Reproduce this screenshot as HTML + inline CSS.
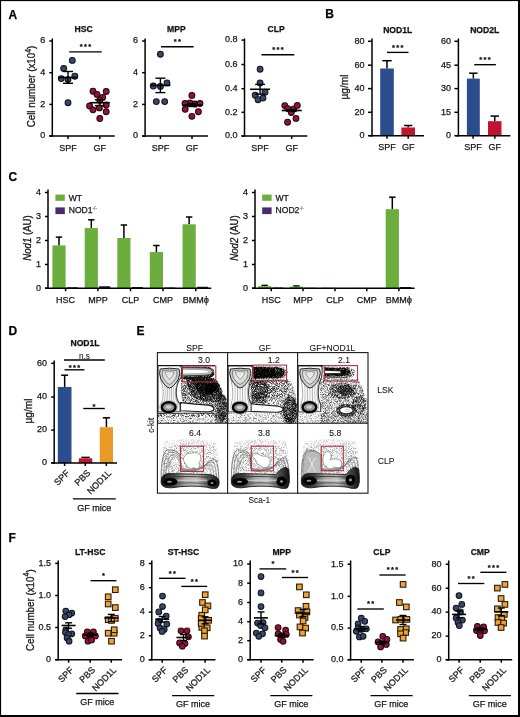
<!DOCTYPE html><html><head><meta charset="utf-8"><style>html,body{margin:0;padding:0;background:#fff}svg{display:block;will-change:transform}text{font-family:"Liberation Sans", sans-serif;stroke:#111;stroke-width:0.25px}</style></head><body>
<svg width="520" height="717" viewBox="0 0 520 717">
<defs><filter id="spkd" filterUnits="userSpaceOnUse" x="0" y="0" width="520" height="717"><feTurbulence type="fractalNoise" baseFrequency="1.6" numOctaves="1" seed="3" result="n"/><feColorMatrix in="n" type="matrix" values="0 0 0 0 0  0 0 0 0 0  0 0 0 0 0  0 0 0 -2 1.85" result="m"/><feComposite in="SourceGraphic" in2="m" operator="in" result="c"/><feGaussianBlur in="c" stdDeviation="0.6"/></filter><filter id="spkd2" filterUnits="userSpaceOnUse" x="0" y="0" width="520" height="717"><feTurbulence type="fractalNoise" baseFrequency="1.6" numOctaves="1" seed="4" result="n"/><feColorMatrix in="n" type="matrix" values="0 0 0 0 0  0 0 0 0 0  0 0 0 0 0  0 0 0 -2 1.72" result="m"/><feComposite in="SourceGraphic" in2="m" operator="in" result="c"/><feGaussianBlur in="c" stdDeviation="0.6"/></filter><filter id="spkm" filterUnits="userSpaceOnUse" x="0" y="0" width="520" height="717"><feTurbulence type="fractalNoise" baseFrequency="1.6" numOctaves="1" seed="5" result="n"/><feColorMatrix in="n" type="matrix" values="0 0 0 0 0  0 0 0 0 0  0 0 0 0 0  0 0 0 -2 1.6" result="m"/><feComposite in="SourceGraphic" in2="m" operator="in" result="c"/><feGaussianBlur in="c" stdDeviation="0.6"/></filter><filter id="spkm2" filterUnits="userSpaceOnUse" x="0" y="0" width="520" height="717"><feTurbulence type="fractalNoise" baseFrequency="1.6" numOctaves="1" seed="6" result="n"/><feColorMatrix in="n" type="matrix" values="0 0 0 0 0  0 0 0 0 0  0 0 0 0 0  0 0 0 -2 1.5" result="m"/><feComposite in="SourceGraphic" in2="m" operator="in" result="c"/><feGaussianBlur in="c" stdDeviation="0.6"/></filter><filter id="spkl" filterUnits="userSpaceOnUse" x="0" y="0" width="520" height="717"><feTurbulence type="fractalNoise" baseFrequency="1.6" numOctaves="1" seed="7" result="n"/><feColorMatrix in="n" type="matrix" values="0 0 0 0 0  0 0 0 0 0  0 0 0 0 0  0 0 0 -2 1.38" result="m"/><feComposite in="SourceGraphic" in2="m" operator="in" result="c"/><feGaussianBlur in="c" stdDeviation="0.6"/></filter><filter id="spkxl" filterUnits="userSpaceOnUse" x="0" y="0" width="520" height="717"><feTurbulence type="fractalNoise" baseFrequency="1.6" numOctaves="1" seed="9" result="n"/><feColorMatrix in="n" type="matrix" values="0 0 0 0 0  0 0 0 0 0  0 0 0 0 0  0 0 0 -2 1.25" result="m"/><feComposite in="SourceGraphic" in2="m" operator="in" result="c"/><feGaussianBlur in="c" stdDeviation="0.6"/></filter><filter id="spkxxl" filterUnits="userSpaceOnUse" x="0" y="0" width="520" height="717"><feTurbulence type="fractalNoise" baseFrequency="1.6" numOctaves="1" seed="11" result="n"/><feColorMatrix in="n" type="matrix" values="0 0 0 0 0  0 0 0 0 0  0 0 0 0 0  0 0 0 -2 1.12" result="m"/><feComposite in="SourceGraphic" in2="m" operator="in" result="c"/><feGaussianBlur in="c" stdDeviation="0.6"/></filter></defs>
<rect x="0" y="0" width="520" height="717" fill="#fff"/>
<text x="8.6" y="18.6" font-size="12" text-anchor="start" font-weight="bold" font-style="normal" fill="#000" >A</text>
<text x="325.2" y="18.4" font-size="12" text-anchor="start" font-weight="bold" font-style="normal" fill="#000" >B</text>
<text x="8.4" y="181.3" font-size="12" text-anchor="start" font-weight="bold" font-style="normal" fill="#000" >C</text>
<text x="8.4" y="334.8" font-size="12" text-anchor="start" font-weight="bold" font-style="normal" fill="#000" >D</text>
<text x="136.6" y="334.8" font-size="12" text-anchor="start" font-weight="bold" font-style="normal" fill="#000" >E</text>
<text x="8.6" y="541.5" font-size="12" text-anchor="start" font-weight="bold" font-style="normal" fill="#000" >F</text>
<line x1="52.3" y1="38.5" x2="52.3" y2="136.75" stroke="#000" stroke-width="1.5"/>
<line x1="49.3" y1="41" x2="52.3" y2="41" stroke="#000" stroke-width="1.5"/>
<text x="45.2" y="43.35" font-size="9" text-anchor="end" font-weight="normal" font-style="normal" fill="#1a1a1a" >6</text>
<line x1="49.3" y1="72.7" x2="52.3" y2="72.7" stroke="#000" stroke-width="1.5"/>
<text x="45.2" y="75.05" font-size="9" text-anchor="end" font-weight="normal" font-style="normal" fill="#1a1a1a" >4</text>
<line x1="49.3" y1="104.4" x2="52.3" y2="104.4" stroke="#000" stroke-width="1.5"/>
<text x="45.2" y="106.75" font-size="9" text-anchor="end" font-weight="normal" font-style="normal" fill="#1a1a1a" >2</text>
<line x1="49.3" y1="136" x2="52.3" y2="136" stroke="#000" stroke-width="1.5"/>
<text x="45.2" y="138.35" font-size="9" text-anchor="end" font-weight="normal" font-style="normal" fill="#1a1a1a" >0</text>
<line x1="49.3" y1="136" x2="114.8" y2="136" stroke="#000" stroke-width="1.5"/>
<line x1="68" y1="136" x2="68" y2="139" stroke="#000" stroke-width="1.5"/>
<line x1="99.8" y1="136" x2="99.8" y2="139" stroke="#000" stroke-width="1.5"/>
<text x="83.7" y="32.4" font-size="8.6" text-anchor="middle" font-weight="bold" font-style="normal" fill="#111" >HSC</text>
<text x="68" y="150.6" font-size="9" text-anchor="middle" font-weight="normal" font-style="normal" fill="#1a1a1a" >SPF</text>
<text x="99.8" y="150.6" font-size="9" text-anchor="middle" font-weight="normal" font-style="normal" fill="#1a1a1a" >GF</text>
<line x1="69.2" y1="51.8" x2="101.8" y2="51.8" stroke="#000" stroke-width="1.35"/>
<text x="86.15" y="49.0" font-size="7.5" text-anchor="middle" font-weight="bold" letter-spacing="1.3" fill="#111">***</text>
<circle cx="72.3" cy="60.4" r="2.9" fill="#3a4867" stroke="#10151f" stroke-width="1.05"/>
<circle cx="63.7" cy="68.5" r="2.9" fill="#3a4867" stroke="#10151f" stroke-width="1.05"/>
<circle cx="74.8" cy="76.2" r="2.9" fill="#3a4867" stroke="#10151f" stroke-width="1.05"/>
<circle cx="61.3" cy="78.6" r="2.9" fill="#3a4867" stroke="#10151f" stroke-width="1.05"/>
<circle cx="68" cy="79.6" r="2.9" fill="#3a4867" stroke="#10151f" stroke-width="1.05"/>
<circle cx="68" cy="102.7" r="2.9" fill="#3a4867" stroke="#10151f" stroke-width="1.05"/>
<circle cx="93" cy="91.2" r="2.9" fill="#8e1737" stroke="#2c050f" stroke-width="1.05"/>
<circle cx="106.2" cy="91.5" r="2.9" fill="#8e1737" stroke="#2c050f" stroke-width="1.05"/>
<circle cx="97" cy="94.4" r="2.9" fill="#8e1737" stroke="#2c050f" stroke-width="1.05"/>
<circle cx="102.7" cy="97.3" r="2.9" fill="#8e1737" stroke="#2c050f" stroke-width="1.05"/>
<circle cx="99.8" cy="100.2" r="2.9" fill="#8e1737" stroke="#2c050f" stroke-width="1.05"/>
<circle cx="89.6" cy="106" r="2.9" fill="#8e1737" stroke="#2c050f" stroke-width="1.05"/>
<circle cx="106.2" cy="105" r="2.9" fill="#8e1737" stroke="#2c050f" stroke-width="1.05"/>
<circle cx="93" cy="109.8" r="2.9" fill="#8e1737" stroke="#2c050f" stroke-width="1.05"/>
<circle cx="99.4" cy="107.9" r="2.9" fill="#8e1737" stroke="#2c050f" stroke-width="1.05"/>
<circle cx="106.2" cy="111.7" r="2.9" fill="#8e1737" stroke="#2c050f" stroke-width="1.05"/>
<circle cx="99.8" cy="118.5" r="2.9" fill="#8e1737" stroke="#2c050f" stroke-width="1.05"/>
<line x1="58" y1="77.5" x2="78" y2="77.5" stroke="#000" stroke-width="1.6"/>
<line x1="68" y1="71.5" x2="68" y2="83.3" stroke="#000" stroke-width="1.4"/>
<line x1="63" y1="71.5" x2="73" y2="71.5" stroke="#000" stroke-width="1.4"/>
<line x1="63" y1="83.3" x2="73" y2="83.3" stroke="#000" stroke-width="1.4"/>
<line x1="89.8" y1="102.7" x2="109.8" y2="102.7" stroke="#000" stroke-width="1.6"/>
<line x1="99.8" y1="99.8" x2="99.8" y2="105.6" stroke="#000" stroke-width="1.4"/>
<line x1="94.8" y1="99.8" x2="104.8" y2="99.8" stroke="#000" stroke-width="1.4"/>
<line x1="94.8" y1="105.6" x2="104.8" y2="105.6" stroke="#000" stroke-width="1.4"/>
<line x1="145.1" y1="38.5" x2="145.1" y2="136.75" stroke="#000" stroke-width="1.5"/>
<line x1="142.1" y1="41" x2="145.1" y2="41" stroke="#000" stroke-width="1.5"/>
<text x="138.0" y="43.35" font-size="9" text-anchor="end" font-weight="normal" font-style="normal" fill="#1a1a1a" >6</text>
<line x1="142.1" y1="72.7" x2="145.1" y2="72.7" stroke="#000" stroke-width="1.5"/>
<text x="138.0" y="75.05" font-size="9" text-anchor="end" font-weight="normal" font-style="normal" fill="#1a1a1a" >4</text>
<line x1="142.1" y1="104.4" x2="145.1" y2="104.4" stroke="#000" stroke-width="1.5"/>
<text x="138.0" y="106.75" font-size="9" text-anchor="end" font-weight="normal" font-style="normal" fill="#1a1a1a" >2</text>
<line x1="142.1" y1="136" x2="145.1" y2="136" stroke="#000" stroke-width="1.5"/>
<text x="138.0" y="138.35" font-size="9" text-anchor="end" font-weight="normal" font-style="normal" fill="#1a1a1a" >0</text>
<line x1="142.1" y1="136" x2="208" y2="136" stroke="#000" stroke-width="1.5"/>
<line x1="160.4" y1="136" x2="160.4" y2="139" stroke="#000" stroke-width="1.5"/>
<line x1="192" y1="136" x2="192" y2="139" stroke="#000" stroke-width="1.5"/>
<text x="176.4" y="32.4" font-size="8.6" text-anchor="middle" font-weight="bold" font-style="normal" fill="#111" >MPP</text>
<text x="160.4" y="150.6" font-size="9" text-anchor="middle" font-weight="normal" font-style="normal" fill="#1a1a1a" >SPF</text>
<text x="192" y="150.6" font-size="9" text-anchor="middle" font-weight="normal" font-style="normal" fill="#1a1a1a" >GF</text>
<line x1="161" y1="46.7" x2="193.6" y2="46.7" stroke="#000" stroke-width="1.35"/>
<text x="177.95" y="43.9" font-size="7.5" text-anchor="middle" font-weight="bold" letter-spacing="1.3" fill="#111">**</text>
<circle cx="160.4" cy="54.2" r="2.9" fill="#3a4867" stroke="#10151f" stroke-width="1.05"/>
<circle cx="153.3" cy="86" r="2.9" fill="#3a4867" stroke="#10151f" stroke-width="1.05"/>
<circle cx="160.4" cy="86.4" r="2.9" fill="#3a4867" stroke="#10151f" stroke-width="1.05"/>
<circle cx="167" cy="82.9" r="2.9" fill="#3a4867" stroke="#10151f" stroke-width="1.05"/>
<circle cx="156.3" cy="101.6" r="2.9" fill="#3a4867" stroke="#10151f" stroke-width="1.05"/>
<circle cx="164.7" cy="101.6" r="2.9" fill="#3a4867" stroke="#10151f" stroke-width="1.05"/>
<circle cx="191.9" cy="95.4" r="2.9" fill="#8e1737" stroke="#2c050f" stroke-width="1.05"/>
<circle cx="185" cy="103.5" r="2.9" fill="#8e1737" stroke="#2c050f" stroke-width="1.05"/>
<circle cx="190" cy="103" r="2.9" fill="#8e1737" stroke="#2c050f" stroke-width="1.05"/>
<circle cx="195" cy="104" r="2.9" fill="#8e1737" stroke="#2c050f" stroke-width="1.05"/>
<circle cx="200" cy="103.5" r="2.9" fill="#8e1737" stroke="#2c050f" stroke-width="1.05"/>
<circle cx="185.2" cy="109.3" r="2.9" fill="#8e1737" stroke="#2c050f" stroke-width="1.05"/>
<circle cx="198.4" cy="111.7" r="2.9" fill="#8e1737" stroke="#2c050f" stroke-width="1.05"/>
<circle cx="191.9" cy="116.3" r="2.9" fill="#8e1737" stroke="#2c050f" stroke-width="1.05"/>
<line x1="150.4" y1="85.4" x2="170.4" y2="85.4" stroke="#000" stroke-width="1.6"/>
<line x1="160.4" y1="78.2" x2="160.4" y2="92.6" stroke="#000" stroke-width="1.4"/>
<line x1="155.4" y1="78.2" x2="165.4" y2="78.2" stroke="#000" stroke-width="1.4"/>
<line x1="155.4" y1="92.6" x2="165.4" y2="92.6" stroke="#000" stroke-width="1.4"/>
<line x1="182" y1="105" x2="202" y2="105" stroke="#000" stroke-width="1.6"/>
<line x1="192" y1="103.5" x2="192" y2="106.5" stroke="#000" stroke-width="1.4"/>
<line x1="187" y1="103.5" x2="197" y2="103.5" stroke="#000" stroke-width="1.4"/>
<line x1="187" y1="106.5" x2="197" y2="106.5" stroke="#000" stroke-width="1.4"/>
<line x1="244.5" y1="38.5" x2="244.5" y2="136.75" stroke="#000" stroke-width="1.5"/>
<line x1="241.5" y1="40.1" x2="244.5" y2="40.1" stroke="#000" stroke-width="1.5"/>
<text x="237.4" y="42.45" font-size="9" text-anchor="end" font-weight="normal" font-style="normal" fill="#1a1a1a" >0.8</text>
<line x1="241.5" y1="64.5" x2="244.5" y2="64.5" stroke="#000" stroke-width="1.5"/>
<text x="237.4" y="66.85" font-size="9" text-anchor="end" font-weight="normal" font-style="normal" fill="#1a1a1a" >0.6</text>
<line x1="241.5" y1="88.7" x2="244.5" y2="88.7" stroke="#000" stroke-width="1.5"/>
<text x="237.4" y="91.05" font-size="9" text-anchor="end" font-weight="normal" font-style="normal" fill="#1a1a1a" >0.4</text>
<line x1="241.5" y1="112.3" x2="244.5" y2="112.3" stroke="#000" stroke-width="1.5"/>
<text x="237.4" y="114.65" font-size="9" text-anchor="end" font-weight="normal" font-style="normal" fill="#1a1a1a" >0.2</text>
<line x1="241.5" y1="136" x2="244.5" y2="136" stroke="#000" stroke-width="1.5"/>
<text x="237.4" y="138.35" font-size="9" text-anchor="end" font-weight="normal" font-style="normal" fill="#1a1a1a" >0.0</text>
<line x1="241.5" y1="136" x2="307.4" y2="136" stroke="#000" stroke-width="1.5"/>
<line x1="260.1" y1="136" x2="260.1" y2="139" stroke="#000" stroke-width="1.5"/>
<line x1="291.7" y1="136" x2="291.7" y2="139" stroke="#000" stroke-width="1.5"/>
<text x="276.1" y="32.4" font-size="8.6" text-anchor="middle" font-weight="bold" font-style="normal" fill="#111" >CLP</text>
<text x="260.1" y="150.6" font-size="9" text-anchor="middle" font-weight="normal" font-style="normal" fill="#1a1a1a" >SPF</text>
<text x="291.7" y="150.6" font-size="9" text-anchor="middle" font-weight="normal" font-style="normal" fill="#1a1a1a" >GF</text>
<line x1="261.5" y1="54.75" x2="294.3" y2="54.75" stroke="#000" stroke-width="1.35"/>
<text x="278.55" y="51.95" font-size="7.5" text-anchor="middle" font-weight="bold" letter-spacing="1.3" fill="#111">***</text>
<circle cx="260.1" cy="69.2" r="2.9" fill="#3a4867" stroke="#10151f" stroke-width="1.05"/>
<circle cx="260.1" cy="82.9" r="2.9" fill="#3a4867" stroke="#10151f" stroke-width="1.05"/>
<circle cx="255.2" cy="95.2" r="2.9" fill="#3a4867" stroke="#10151f" stroke-width="1.05"/>
<circle cx="265" cy="92.2" r="2.9" fill="#3a4867" stroke="#10151f" stroke-width="1.05"/>
<circle cx="258" cy="99.7" r="2.9" fill="#3a4867" stroke="#10151f" stroke-width="1.05"/>
<circle cx="263" cy="98.1" r="2.9" fill="#3a4867" stroke="#10151f" stroke-width="1.05"/>
<circle cx="284.8" cy="105.6" r="2.9" fill="#8e1737" stroke="#2c050f" stroke-width="1.05"/>
<circle cx="287.8" cy="108.6" r="2.9" fill="#8e1737" stroke="#2c050f" stroke-width="1.05"/>
<circle cx="291.3" cy="112.6" r="2.9" fill="#8e1737" stroke="#2c050f" stroke-width="1.05"/>
<circle cx="293.9" cy="108.8" r="2.9" fill="#8e1737" stroke="#2c050f" stroke-width="1.05"/>
<circle cx="297.3" cy="105.4" r="2.9" fill="#8e1737" stroke="#2c050f" stroke-width="1.05"/>
<circle cx="296" cy="118.4" r="2.9" fill="#8e1737" stroke="#2c050f" stroke-width="1.05"/>
<circle cx="287.6" cy="122.2" r="2.9" fill="#8e1737" stroke="#2c050f" stroke-width="1.05"/>
<line x1="250.1" y1="89.3" x2="270.1" y2="89.3" stroke="#000" stroke-width="1.6"/>
<line x1="260.1" y1="84.4" x2="260.1" y2="94.2" stroke="#000" stroke-width="1.4"/>
<line x1="255.1" y1="84.4" x2="265.1" y2="84.4" stroke="#000" stroke-width="1.4"/>
<line x1="255.1" y1="94.2" x2="265.1" y2="94.2" stroke="#000" stroke-width="1.4"/>
<line x1="281.7" y1="110.5" x2="301.7" y2="110.5" stroke="#000" stroke-width="1.6"/>
<line x1="291.7" y1="109.6" x2="291.7" y2="111.4" stroke="#000" stroke-width="1.4"/>
<line x1="286.7" y1="109.6" x2="296.7" y2="109.6" stroke="#000" stroke-width="1.4"/>
<line x1="286.7" y1="111.4" x2="296.7" y2="111.4" stroke="#000" stroke-width="1.4"/>
<text x="0" y="0" font-size="9.8" text-anchor="middle" fill="#1a1a1a" transform="translate(35.3,86.5) rotate(-90) scale(1,1.2)">Cell number (x10<tspan dy="-3.8" font-size="7">4</tspan><tspan dy="3.8">)</tspan></text>
<text x="0" y="0" font-size="9.8" text-anchor="middle" fill="#1a1a1a" transform="translate(33.6,610.2) rotate(-90) scale(1,1.2)">Cell number (x10<tspan dy="-3.8" font-size="7">4</tspan><tspan dy="3.8">)</tspan></text>
<line x1="372" y1="38.5" x2="372" y2="136.45" stroke="#000" stroke-width="1.5"/>
<line x1="368" y1="41.3" x2="372" y2="41.3" stroke="#000" stroke-width="1.5"/>
<text x="364.5" y="43.65" font-size="9" text-anchor="end" font-weight="normal" font-style="normal" fill="#1a1a1a" >80</text>
<line x1="368" y1="65.2" x2="372" y2="65.2" stroke="#000" stroke-width="1.5"/>
<text x="364.5" y="67.55" font-size="9" text-anchor="end" font-weight="normal" font-style="normal" fill="#1a1a1a" >60</text>
<line x1="368" y1="88.6" x2="372" y2="88.6" stroke="#000" stroke-width="1.5"/>
<text x="364.5" y="90.95" font-size="9" text-anchor="end" font-weight="normal" font-style="normal" fill="#1a1a1a" >40</text>
<line x1="368" y1="112.3" x2="372" y2="112.3" stroke="#000" stroke-width="1.5"/>
<text x="364.5" y="114.65" font-size="9" text-anchor="end" font-weight="normal" font-style="normal" fill="#1a1a1a" >20</text>
<line x1="368" y1="135.7" x2="372" y2="135.7" stroke="#000" stroke-width="1.5"/>
<text x="364.5" y="138.05" font-size="9" text-anchor="end" font-weight="normal" font-style="normal" fill="#1a1a1a" >0</text>
<line x1="387.0" y1="60.7" x2="387.0" y2="68.5" stroke="#000" stroke-width="1.5"/>
<line x1="382.3" y1="60.7" x2="391.7" y2="60.7" stroke="#000" stroke-width="1.5"/>
<rect x="380.2" y="68.5" width="13.6" height="67.2" fill="#2c4d8d"/>
<line x1="408.2" y1="125.5" x2="408.2" y2="127.5" stroke="#000" stroke-width="1.5"/>
<line x1="404.1" y1="125.5" x2="412.3" y2="125.5" stroke="#000" stroke-width="1.5"/>
<rect x="401.4" y="127.5" width="13.6" height="8.2" fill="#c2132f"/>
<line x1="369" y1="135.7" x2="424" y2="135.7" stroke="#000" stroke-width="1.5"/>
<line x1="387" y1="135.7" x2="387" y2="138.7" stroke="#000" stroke-width="1.5"/>
<line x1="408.2" y1="135.7" x2="408.2" y2="138.7" stroke="#000" stroke-width="1.5"/>
<text x="397.7" y="32.6" font-size="8.6" text-anchor="middle" font-weight="bold" font-style="normal" fill="#111" >NOD1L</text>
<text x="387" y="150.4" font-size="9" text-anchor="middle" font-weight="normal" font-style="normal" fill="#1a1a1a" >SPF</text>
<text x="408.2" y="150.4" font-size="9" text-anchor="middle" font-weight="normal" font-style="normal" fill="#1a1a1a" >GF</text>
<line x1="387" y1="52.4" x2="408.5" y2="52.4" stroke="#000" stroke-width="1.35"/>
<text x="398.4" y="49.6" font-size="7.5" text-anchor="middle" font-weight="bold" letter-spacing="1.3" fill="#111">***</text>
<line x1="458.4" y1="38.5" x2="458.4" y2="136.45" stroke="#000" stroke-width="1.5"/>
<line x1="454.4" y1="41.3" x2="458.4" y2="41.3" stroke="#000" stroke-width="1.5"/>
<text x="450.9" y="43.65" font-size="9" text-anchor="end" font-weight="normal" font-style="normal" fill="#1a1a1a" >60</text>
<line x1="454.4" y1="65.2" x2="458.4" y2="65.2" stroke="#000" stroke-width="1.5"/>
<text x="450.9" y="67.55" font-size="9" text-anchor="end" font-weight="normal" font-style="normal" fill="#1a1a1a" >45</text>
<line x1="454.4" y1="88.6" x2="458.4" y2="88.6" stroke="#000" stroke-width="1.5"/>
<text x="450.9" y="90.95" font-size="9" text-anchor="end" font-weight="normal" font-style="normal" fill="#1a1a1a" >30</text>
<line x1="454.4" y1="112.3" x2="458.4" y2="112.3" stroke="#000" stroke-width="1.5"/>
<text x="450.9" y="114.65" font-size="9" text-anchor="end" font-weight="normal" font-style="normal" fill="#1a1a1a" >15</text>
<line x1="454.4" y1="135.7" x2="458.4" y2="135.7" stroke="#000" stroke-width="1.5"/>
<text x="450.9" y="138.05" font-size="9" text-anchor="end" font-weight="normal" font-style="normal" fill="#1a1a1a" >0</text>
<line x1="473.35" y1="73.2" x2="473.35" y2="78.6" stroke="#000" stroke-width="1.5"/>
<line x1="469.15" y1="73.2" x2="477.55" y2="73.2" stroke="#000" stroke-width="1.5"/>
<rect x="466.9" y="78.6" width="12.9" height="57.1" fill="#2c4d8d"/>
<line x1="494.75" y1="116.1" x2="494.75" y2="121.2" stroke="#000" stroke-width="1.5"/>
<line x1="490.55" y1="116.1" x2="498.95" y2="116.1" stroke="#000" stroke-width="1.5"/>
<rect x="488" y="121.2" width="13.5" height="14.5" fill="#c2132f"/>
<line x1="455.4" y1="135.7" x2="510.4" y2="135.7" stroke="#000" stroke-width="1.5"/>
<line x1="473.1" y1="135.7" x2="473.1" y2="138.7" stroke="#000" stroke-width="1.5"/>
<line x1="494.8" y1="135.7" x2="494.8" y2="138.7" stroke="#000" stroke-width="1.5"/>
<text x="484.7" y="32.6" font-size="8.6" text-anchor="middle" font-weight="bold" font-style="normal" fill="#111" >NOD2L</text>
<text x="473.1" y="150.4" font-size="9" text-anchor="middle" font-weight="normal" font-style="normal" fill="#1a1a1a" >SPF</text>
<text x="494.8" y="150.4" font-size="9" text-anchor="middle" font-weight="normal" font-style="normal" fill="#1a1a1a" >GF</text>
<line x1="474.2" y1="64.7" x2="495.9" y2="64.7" stroke="#000" stroke-width="1.35"/>
<text x="485.7" y="61.9" font-size="7.5" text-anchor="middle" font-weight="bold" letter-spacing="1.3" fill="#111">***</text>
<text x="0" y="0" font-size="10.2" text-anchor="middle" fill="#1a1a1a" transform="translate(348.0,87) rotate(-90) scale(1,1.1)">µg/ml</text>
<line x1="48" y1="189.5" x2="48" y2="288.95" stroke="#000" stroke-width="1.5"/>
<line x1="45" y1="192.5" x2="48" y2="192.5" stroke="#000" stroke-width="1.5"/>
<text x="40.9" y="194.85" font-size="9" text-anchor="end" font-weight="normal" font-style="normal" fill="#1a1a1a" >4</text>
<line x1="45" y1="216.5" x2="48" y2="216.5" stroke="#000" stroke-width="1.5"/>
<text x="40.9" y="218.85" font-size="9" text-anchor="end" font-weight="normal" font-style="normal" fill="#1a1a1a" >3</text>
<line x1="45" y1="240.5" x2="48" y2="240.5" stroke="#000" stroke-width="1.5"/>
<text x="40.9" y="242.85" font-size="9" text-anchor="end" font-weight="normal" font-style="normal" fill="#1a1a1a" >2</text>
<line x1="45" y1="264.5" x2="48" y2="264.5" stroke="#000" stroke-width="1.5"/>
<text x="40.9" y="266.85" font-size="9" text-anchor="end" font-weight="normal" font-style="normal" fill="#1a1a1a" >1</text>
<line x1="45" y1="288.2" x2="48" y2="288.2" stroke="#000" stroke-width="1.5"/>
<text x="40.9" y="290.55" font-size="9" text-anchor="end" font-weight="normal" font-style="normal" fill="#1a1a1a" >0</text>
<line x1="59" y1="237.1" x2="59" y2="245.4" stroke="#000" stroke-width="1.5"/>
<line x1="55.8" y1="237.1" x2="62.2" y2="237.1" stroke="#000" stroke-width="1.5"/>
<rect x="52.4" y="245.4" width="13.2" height="42.8" fill="#6cae3e"/>
<rect x="66.6" y="287.3" width="11.5" height="0.9" fill="#24152f" rx="0.8"/>
<line x1="91.3" y1="219.8" x2="91.3" y2="228.1" stroke="#000" stroke-width="1.5"/>
<line x1="88.1" y1="219.8" x2="94.5" y2="219.8" stroke="#000" stroke-width="1.5"/>
<rect x="84.7" y="228.1" width="13.2" height="60.1" fill="#6cae3e"/>
<rect x="98.9" y="286.2" width="11.5" height="2.0" fill="#24152f" rx="0.8"/>
<line x1="123.9" y1="225" x2="123.9" y2="238" stroke="#000" stroke-width="1.5"/>
<line x1="120.7" y1="225" x2="127.1" y2="225" stroke="#000" stroke-width="1.5"/>
<rect x="117.3" y="238" width="13.2" height="50.2" fill="#6cae3e"/>
<rect x="131.5" y="286.9" width="11.5" height="1.3" fill="#24152f" rx="0.8"/>
<line x1="156.4" y1="245.5" x2="156.4" y2="252" stroke="#000" stroke-width="1.5"/>
<line x1="153.2" y1="245.5" x2="159.6" y2="245.5" stroke="#000" stroke-width="1.5"/>
<rect x="149.8" y="252" width="13.2" height="36.2" fill="#6cae3e"/>
<rect x="164" y="287.4" width="11.5" height="0.8" fill="#24152f" rx="0.8"/>
<line x1="189.15" y1="217" x2="189.15" y2="224.3" stroke="#000" stroke-width="1.5"/>
<line x1="185.95" y1="217" x2="192.35" y2="217" stroke="#000" stroke-width="1.5"/>
<rect x="182.55" y="224.3" width="13.2" height="63.9" fill="#6cae3e"/>
<rect x="196.75" y="286.8" width="11.5" height="1.4" fill="#24152f" rx="0.8"/>
<line x1="45" y1="288.2" x2="211.3" y2="288.2" stroke="#000" stroke-width="1.5"/>
<line x1="65.6" y1="288.2" x2="65.6" y2="291.2" stroke="#000" stroke-width="1.5"/>
<line x1="97.9" y1="288.2" x2="97.9" y2="291.2" stroke="#000" stroke-width="1.5"/>
<line x1="130.5" y1="288.2" x2="130.5" y2="291.2" stroke="#000" stroke-width="1.5"/>
<line x1="163" y1="288.2" x2="163" y2="291.2" stroke="#000" stroke-width="1.5"/>
<line x1="195.75" y1="288.2" x2="195.75" y2="291.2" stroke="#000" stroke-width="1.5"/>
<text x="65.6" y="303.2" font-size="9" text-anchor="middle" font-weight="normal" font-style="normal" fill="#1a1a1a" >HSC</text>
<text x="97.9" y="303.2" font-size="9" text-anchor="middle" font-weight="normal" font-style="normal" fill="#1a1a1a" >MPP</text>
<text x="130.5" y="303.2" font-size="9" text-anchor="middle" font-weight="normal" font-style="normal" fill="#1a1a1a" >CLP</text>
<text x="163" y="303.2" font-size="9" text-anchor="middle" font-weight="normal" font-style="normal" fill="#1a1a1a" >CMP</text>
<text x="195.75" y="303.2" font-size="9" text-anchor="middle" font-weight="normal" font-style="normal" fill="#1a1a1a" >BMM<tspan font-size="9.2">ϕ</tspan></text>
<rect x="55.4" y="194.6" width="9.4" height="6.2" fill="#6cae3e"/>
<rect x="55.4" y="207.4" width="9.4" height="6.7" fill="#4b2a6c"/>
<text x="68.7" y="200.9" font-size="8.6" text-anchor="start" font-weight="normal" font-style="normal" fill="#1a1a1a" >WT</text>
<text x="68.7" y="213.3" font-size="8.6" text-anchor="start" font-weight="normal" font-style="normal" fill="#1a1a1a" >NOD1<tspan dy="-3.4" font-size="4.6" fill="#444" style="stroke-width:0.1px">-/-</tspan></text>
<line x1="255" y1="189.5" x2="255" y2="288.95" stroke="#000" stroke-width="1.5"/>
<line x1="252" y1="192.5" x2="255" y2="192.5" stroke="#000" stroke-width="1.5"/>
<text x="247.9" y="194.85" font-size="9" text-anchor="end" font-weight="normal" font-style="normal" fill="#1a1a1a" >4</text>
<line x1="252" y1="216.5" x2="255" y2="216.5" stroke="#000" stroke-width="1.5"/>
<text x="247.9" y="218.85" font-size="9" text-anchor="end" font-weight="normal" font-style="normal" fill="#1a1a1a" >3</text>
<line x1="252" y1="240.5" x2="255" y2="240.5" stroke="#000" stroke-width="1.5"/>
<text x="247.9" y="242.85" font-size="9" text-anchor="end" font-weight="normal" font-style="normal" fill="#1a1a1a" >2</text>
<line x1="252" y1="264.5" x2="255" y2="264.5" stroke="#000" stroke-width="1.5"/>
<text x="247.9" y="266.85" font-size="9" text-anchor="end" font-weight="normal" font-style="normal" fill="#1a1a1a" >1</text>
<line x1="252" y1="288.2" x2="255" y2="288.2" stroke="#000" stroke-width="1.5"/>
<text x="247.9" y="290.55" font-size="9" text-anchor="end" font-weight="normal" font-style="normal" fill="#1a1a1a" >0</text>
<line x1="264.65" y1="285.4" x2="264.65" y2="286.2" stroke="#000" stroke-width="1.5"/>
<line x1="261.45" y1="285.4" x2="267.85" y2="285.4" stroke="#000" stroke-width="1.5"/>
<rect x="258.05" y="286.2" width="13.2" height="2.0" fill="#6cae3e"/>
<rect x="272.25" y="287.6" width="11.5" height="0.6" fill="#24152f" rx="0.8"/>
<line x1="296.4" y1="286" x2="296.4" y2="286.6" stroke="#000" stroke-width="1.5"/>
<line x1="293.2" y1="286" x2="299.6" y2="286" stroke="#000" stroke-width="1.5"/>
<rect x="289.8" y="286.6" width="13.2" height="1.6" fill="#6cae3e"/>
<rect x="304" y="287.8" width="11.5" height="0.4" fill="#24152f" rx="0.8"/>
<rect x="321.8" y="287.6" width="13.2" height="0.6" fill="#6cae3e"/>
<rect x="353.6" y="287.8" width="13.2" height="0.4" fill="#6cae3e"/>
<line x1="392.3" y1="197.2" x2="392.3" y2="209.2" stroke="#000" stroke-width="1.5"/>
<line x1="389.1" y1="197.2" x2="395.5" y2="197.2" stroke="#000" stroke-width="1.5"/>
<rect x="385.7" y="209.2" width="13.2" height="79.0" fill="#6cae3e"/>
<rect x="399.9" y="286.9" width="11.5" height="1.3" fill="#24152f" rx="0.8"/>
<line x1="252" y1="288.2" x2="414.6" y2="288.2" stroke="#000" stroke-width="1.5"/>
<line x1="271.25" y1="288.2" x2="271.25" y2="291.2" stroke="#000" stroke-width="1.5"/>
<line x1="303" y1="288.2" x2="303" y2="291.2" stroke="#000" stroke-width="1.5"/>
<line x1="335" y1="288.2" x2="335" y2="291.2" stroke="#000" stroke-width="1.5"/>
<line x1="366.8" y1="288.2" x2="366.8" y2="291.2" stroke="#000" stroke-width="1.5"/>
<line x1="398.9" y1="288.2" x2="398.9" y2="291.2" stroke="#000" stroke-width="1.5"/>
<text x="271.25" y="303.2" font-size="9" text-anchor="middle" font-weight="normal" font-style="normal" fill="#1a1a1a" >HSC</text>
<text x="303" y="303.2" font-size="9" text-anchor="middle" font-weight="normal" font-style="normal" fill="#1a1a1a" >MPP</text>
<text x="335" y="303.2" font-size="9" text-anchor="middle" font-weight="normal" font-style="normal" fill="#1a1a1a" >CLP</text>
<text x="366.8" y="303.2" font-size="9" text-anchor="middle" font-weight="normal" font-style="normal" fill="#1a1a1a" >CMP</text>
<text x="398.9" y="303.2" font-size="9" text-anchor="middle" font-weight="normal" font-style="normal" fill="#1a1a1a" >BMM<tspan font-size="9.2">ϕ</tspan></text>
<rect x="262.2" y="194.6" width="9.4" height="6.2" fill="#6cae3e"/>
<rect x="262.2" y="207.4" width="9.4" height="6.7" fill="#4b2a6c"/>
<text x="275.5" y="200.9" font-size="8.6" text-anchor="start" font-weight="normal" font-style="normal" fill="#1a1a1a" >WT</text>
<text x="275.5" y="213.3" font-size="8.6" text-anchor="start" font-weight="normal" font-style="normal" fill="#1a1a1a" >NOD2<tspan dy="-3.4" font-size="4.6" fill="#444" style="stroke-width:0.1px">-/-</tspan></text>
<text x="0" y="0" font-size="9.6" text-anchor="middle" fill="#1a1a1a" transform="translate(30.6,238) rotate(-90) scale(1,1.2)"><tspan font-style="italic">Nod1</tspan> (AU)</text>
<text x="0" y="0" font-size="9.6" text-anchor="middle" fill="#1a1a1a" transform="translate(237.5,238) rotate(-90) scale(1,1.2)"><tspan font-style="italic">Nod2</tspan> (AU)</text>
<line x1="54.2" y1="360.5" x2="54.2" y2="463.75" stroke="#000" stroke-width="1.5"/>
<line x1="51.2" y1="363.3" x2="54.2" y2="363.3" stroke="#000" stroke-width="1.5"/>
<text x="47.1" y="365.65" font-size="9" text-anchor="end" font-weight="normal" font-style="normal" fill="#1a1a1a" >60</text>
<line x1="51.2" y1="397" x2="54.2" y2="397" stroke="#000" stroke-width="1.5"/>
<text x="47.1" y="399.35" font-size="9" text-anchor="end" font-weight="normal" font-style="normal" fill="#1a1a1a" >40</text>
<line x1="51.2" y1="430.1" x2="54.2" y2="430.1" stroke="#000" stroke-width="1.5"/>
<text x="47.1" y="432.45" font-size="9" text-anchor="end" font-weight="normal" font-style="normal" fill="#1a1a1a" >20</text>
<line x1="51.2" y1="463" x2="54.2" y2="463" stroke="#000" stroke-width="1.5"/>
<text x="47.1" y="465.35" font-size="9" text-anchor="end" font-weight="normal" font-style="normal" fill="#1a1a1a" >0</text>
<line x1="64.65" y1="375.2" x2="64.65" y2="387" stroke="#000" stroke-width="1.5"/>
<line x1="61.15" y1="375.2" x2="68.15" y2="375.2" stroke="#000" stroke-width="1.5"/>
<rect x="57.8" y="387" width="13.7" height="76" fill="#2c4d8d"/>
<line x1="85.55" y1="457.4" x2="85.55" y2="458.3" stroke="#000" stroke-width="1.5"/>
<line x1="81.35" y1="457.4" x2="89.75" y2="457.4" stroke="#000" stroke-width="1.5"/>
<rect x="78.8" y="458.3" width="13.5" height="4.7" fill="#c2132f"/>
<line x1="106.4" y1="417.8" x2="106.4" y2="427.2" stroke="#000" stroke-width="1.5"/>
<line x1="102.8" y1="417.8" x2="110.0" y2="417.8" stroke="#000" stroke-width="1.5"/>
<rect x="99.8" y="427.2" width="13.2" height="35.8" fill="#e99a26"/>
<line x1="51.2" y1="463" x2="117" y2="463" stroke="#000" stroke-width="1.5"/>
<line x1="64.6" y1="463" x2="64.6" y2="466" stroke="#000" stroke-width="1.5"/>
<line x1="85.3" y1="463" x2="85.3" y2="466" stroke="#000" stroke-width="1.5"/>
<line x1="106.3" y1="463" x2="106.3" y2="466" stroke="#000" stroke-width="1.5"/>
<text x="85" y="346" font-size="8.6" text-anchor="middle" font-weight="bold" font-style="normal" fill="#111" >NOD1L</text>
<line x1="64" y1="360" x2="104.8" y2="360" stroke="#000" stroke-width="1.35"/>
<text x="84.4" y="358.8" font-size="8.2" text-anchor="middle" font-weight="normal" font-style="normal" fill="#333" style="stroke-width:0.1px">n.s</text>
<line x1="64.5" y1="369.8" x2="84.4" y2="369.8" stroke="#000" stroke-width="1.35"/>
<text x="75.1" y="370.4" font-size="7.5" text-anchor="middle" font-weight="bold" letter-spacing="1.3" fill="#111">***</text>
<line x1="83.3" y1="408.5" x2="104.8" y2="408.5" stroke="#000" stroke-width="1.35"/>
<text x="94.7" y="409.1" font-size="7.5" text-anchor="middle" font-weight="bold" letter-spacing="1.3" fill="#111">*</text>
<text x="0" y="0" font-size="10.2" text-anchor="middle" fill="#1a1a1a" transform="translate(32.0,411) rotate(-90) scale(1,1.1)">µg/ml</text>
<text x="0" y="0" font-size="9" text-anchor="end" fill="#1a1a1a" transform="translate(70.2,473.6) rotate(-45)">SPF</text>
<text x="0" y="0" font-size="9" text-anchor="end" fill="#1a1a1a" transform="translate(90.9,473.6) rotate(-45)">PBS</text>
<text x="0" y="0" font-size="9" text-anchor="end" fill="#1a1a1a" transform="translate(111.9,473.6) rotate(-45)">NOD1L</text>
<line x1="72.9" y1="498.8" x2="115.8" y2="498.8" stroke="#000" stroke-width="1.35"/>
<text x="94.3" y="511.2" font-size="9" text-anchor="middle" font-weight="normal" font-style="normal" fill="#1a1a1a" >GF mice</text>
<clipPath id="ecl"><rect x="157.4" y="352.6" width="210.6" height="140.6"/></clipPath>
<g clip-path="url(#ecl)">
<path d="M157.4,413 L227.6,413 L227.6,423.3 L157.4,423.3 Z" fill="#000" filter="url(#spkxxl)" />
<path d="M157.4,413 L227.6,413 L227.6,417 L157.4,417 Z" fill="#000" filter="url(#spkxxl)" />
<path d="M181,378 L213,378 Q221,383 223,393 Q227,397 228,402 L228,423 L216,423 Q215,413 205,409.5 L183,405 Q180.5,395 181,378 Z" fill="#000" filter="url(#spkl)" />
<path d="M186,378 L214,378 Q221,383 222,393 Q224,398 218,402 Q205,402 196,399 Q188,394 186,378 Z" fill="#000" filter="url(#spkm)" />
<path d="M192,379 L213,379 Q219,384 219,391 Q214,396 203,395 Q194,390 192,379 Z" fill="#000" filter="url(#spkd2)" />
<ellipse cx="210.5" cy="388.5" rx="6" ry="4.2" fill="#000" filter="url(#spkd)"/>
<ellipse cx="222" cy="408" rx="5" ry="14" fill="#000" filter="url(#spkm2)"/>
<path d="M180.5,402.6 Q196,404.4 208,405.1 Q214.3,406.1 213.8,409.5 Q212.5,412.2 203,411.8 L180.5,410.8 Z" fill="#fff" stroke="#1a1a1a" stroke-width="1.1"/>
<path d="M158,413.6 Q190,413 214,413.2" fill="none" stroke="#333" stroke-width="1"/>
<path d="M158.0,365.8 L179.6,365.8 Q182.1,366.5 181.6,370 L181.1,377 Q176.2,384 176.2,393 Q176.2,400 180.1,404 L180.1,411.5 L158.0,412 Z" fill="#fcfcfc" stroke="#333" stroke-width="1.1"/>
<path d="M160.67,380 Q163.39,387 163.39,393 Q163.39,399 160.67,405" fill="none" stroke="#6e6e6e" stroke-width="0.55"/>
<path d="M163.61,380 Q165.36,387 165.36,393 Q165.36,399 163.61,405" fill="none" stroke="#9a9a9a" stroke-width="0.55"/>
<path d="M166.56,380 Q167.33,387 167.33,393 Q167.33,399 166.56,405" fill="none" stroke="#6e6e6e" stroke-width="0.55"/>
<path d="M169.5,380 Q169.3,387 169.3,393 Q169.3,399 169.5,405" fill="none" stroke="#9a9a9a" stroke-width="0.55"/>
<path d="M172.44,380 Q171.27,387 171.27,393 Q171.27,399 172.44,405" fill="none" stroke="#6e6e6e" stroke-width="0.55"/>
<path d="M175.39,380 Q173.24,387 173.24,393 Q173.24,399 175.39,405" fill="none" stroke="#9a9a9a" stroke-width="0.55"/>
<path d="M178.33,380 Q175.21,387 175.21,393 Q175.21,399 178.33,405" fill="none" stroke="#6e6e6e" stroke-width="0.55"/>
<path d="M160.2,369 Q169.5,367.4 179.0,369 Q180.8,373 178.4,379 Q173.5,387.5 169.5,388 Q165.5,387.5 160.8,379 Q158.6,373 160.2,369 Z" fill="#cfcfcf" stroke="#222" stroke-width="1.0"/>
<path d="M162.6,370.6 Q169.5,369.6 176.6,370.6 Q177.8,374 175.8,378.5 Q172.0,384 169.5,384.5 Q167.0,384 163.4,378.5 Q161.4,374 162.6,370.6 Z" fill="#dedede" stroke="#555" stroke-width="0.7"/>
<path d="M165.0,372 Q169.5,371.3 174.1,372 Q173.6,375.5 169.5,379.5 Q166.0,375.5 165.0,372 Z" fill="#ececec" stroke="#6a6a6a" stroke-width="0.6"/>
<ellipse cx="169.0" cy="374.3" rx="1.8" ry="1.4" fill="#e4e4e4"/>
<ellipse cx="168.7" cy="407.2" rx="9.2" ry="6.4" fill="none" stroke="#9a9a9a" stroke-width="0.6"/>
<ellipse cx="168.7" cy="407.2" rx="6.9" ry="4.9" fill="#9a9a9a" stroke="#050505" stroke-width="2.5"/>
<ellipse cx="168.7" cy="407.0" rx="3.6" ry="2.3" fill="#d0d0d0" stroke="#555" stroke-width="0.5"/>
<path d="M181.6,366.4 L207,366.8 Q214.5,367.8 214.3,372 Q213.8,377.5 207,377.8 L181.3,379 Z" fill="#000" filter="url(#spkd2)"/>
<path d="M181.6,367.6 L206,368 Q212.6,368.8 212.4,371.8 Q212,375 206,375.2 L181.3,376 Z" fill="#bdbdbd" stroke="#333" stroke-width="0.9"/>
<path d="M182.5,369.3 L204,369.8 Q209.5,370.5 209.3,371.8 Q209,373.2 204,373.4 L182.5,374 Z" fill="#fff" stroke="#777" stroke-width="0.5"/>
<path d="M181.5,378.2 L207,377.6 Q212.5,377.2 214,373.5" fill="none" stroke="#111" stroke-width="1.6"/>
<path d="M157.4,365.5 L215,365.5" stroke="#111" stroke-width="1.2"/>
<path d="M227.6,413 L297.6,413 L297.6,423.3 L227.6,423.3 Z" fill="#000" filter="url(#spkxxl)" opacity="0.85"/>
<path d="M250,379 L289,379 Q295,388 296,398 L297.6,402 L297.6,423.3 L284,423.3 Q283,414 276,412 L252,411 Q249,396 250,379 Z" fill="#000" filter="url(#spkxl)" />
<path d="M251,380 L288,380 Q290,388 284,396 L252,400 Z" fill="#000" filter="url(#spkxl)" />
<path d="M251,380 L266,380 Q270,392 266,403 L252,403 Z" fill="#000" filter="url(#spkm2)" />
<ellipse cx="290" cy="410" rx="7.5" ry="14" fill="#000" filter="url(#spkm)"/>
<path d="M253,366.3 L280,366.5 Q288,368 288,372.5 Q287,378.5 280,379 L253,379.3 Z" fill="#000" filter="url(#spkl)" />
<path d="M253.5,367 L278,367.3 Q284.5,369 284.5,372.5 Q284,377.5 278,378.2 L253.5,378.5 Z" fill="#000" filter="url(#spkd)" />
<path d="M253.5,368 L274,368.3 L274,377.6 L253.5,377.8 Z" fill="#000" filter="url(#spkd)" />
<path d="M250,403.8 Q266,405.2 278.5,406.2 Q283.4,407.3 283,409.8 Q282,412.4 276,412.2 L250,411.5 Z" fill="#fff" stroke="#1a1a1a" stroke-width="1.1"/>
<path d="M228.2,365.8 L250.6,365.8 Q253.1,366.5 252.6,370 L252.1,377 Q248.6,384 248.6,393 Q248.6,400 251.1,404 L251.1,411.5 L228.2,412 Z" fill="#fcfcfc" stroke="#333" stroke-width="1.1"/>
<path d="M230.93,380 Q232.81,387 232.81,393 Q232.81,399 230.93,405" fill="none" stroke="#6e6e6e" stroke-width="0.55"/>
<path d="M233.99,380 Q235.24,387 235.24,393 Q235.24,399 233.99,405" fill="none" stroke="#9a9a9a" stroke-width="0.55"/>
<path d="M237.04,380 Q237.67,387 237.67,393 Q237.67,399 237.04,405" fill="none" stroke="#6e6e6e" stroke-width="0.55"/>
<path d="M240.1,380 Q240.1,387 240.1,393 Q240.1,399 240.1,405" fill="none" stroke="#9a9a9a" stroke-width="0.55"/>
<path d="M243.16,380 Q242.53,387 242.53,393 Q242.53,399 243.16,405" fill="none" stroke="#6e6e6e" stroke-width="0.55"/>
<path d="M246.21,380 Q244.96,387 244.96,393 Q244.96,399 246.21,405" fill="none" stroke="#9a9a9a" stroke-width="0.55"/>
<path d="M249.27,380 Q247.39,387 247.39,393 Q247.39,399 249.27,405" fill="none" stroke="#6e6e6e" stroke-width="0.55"/>
<path d="M230.4,369 Q240.1,367.4 250.0,369 Q251.8,373 249.4,379 Q244.1,387.5 240.1,388 Q236.1,387.5 231.0,379 Q228.8,373 230.4,369 Z" fill="#cfcfcf" stroke="#222" stroke-width="1.0"/>
<path d="M232.8,370.6 Q240.1,369.6 247.6,370.6 Q248.8,374 246.8,378.5 Q242.6,384 240.1,384.5 Q237.6,384 233.6,378.5 Q231.6,374 232.8,370.6 Z" fill="#dedede" stroke="#555" stroke-width="0.7"/>
<path d="M235.2,372 Q240.1,371.3 245.1,372 Q244.6,375.5 240.1,379.5 Q236.2,375.5 235.2,372 Z" fill="#ececec" stroke="#6a6a6a" stroke-width="0.6"/>
<ellipse cx="239.6" cy="374.3" rx="1.8" ry="1.4" fill="#e4e4e4"/>
<ellipse cx="239.8" cy="407.6" rx="9.2" ry="6.4" fill="none" stroke="#9a9a9a" stroke-width="0.6"/>
<ellipse cx="239.8" cy="407.6" rx="6.9" ry="4.9" fill="#9a9a9a" stroke="#050505" stroke-width="2.5"/>
<ellipse cx="239.8" cy="407.4" rx="3.6" ry="2.3" fill="#d0d0d0" stroke="#555" stroke-width="0.5"/>
<path d="M227.6,365.6 L253.5,365.6" stroke="#111" stroke-width="1.2"/>
<path d="M297.6,413 L368.0,413 L368.0,423.3 L297.6,423.3 Z" fill="#000" filter="url(#spkxxl)" opacity="0.75"/>
<path d="M320,379 L358,379 Q364,389 365,397 L368.0,401 L368.0,423.3 L319.6,423.3 L322,411 Q319,396 320,379 Z" fill="#000" filter="url(#spkxl)" />
<ellipse cx="343" cy="391" rx="14" ry="8" fill="#000" filter="url(#spkl)"/>
<ellipse cx="345" cy="390" rx="8" ry="5" fill="#000" filter="url(#spkm2)"/>
<ellipse cx="359" cy="404" rx="7" ry="9" fill="#000" filter="url(#spkl)"/>
<path d="M323.5,366.5 L348,367 Q356,369 355,372.5 Q354,378 348,378.6 L323.5,379 Z" fill="#000" filter="url(#spkl)" />
<path d="M324,367.6 L346,368.2 Q351.5,370.5 350,373 Q348,375.5 342,376 L324,376.3 Z" fill="#000" filter="url(#spkd)" />
<path d="M324.6,370.2 L339.5,370.9 Q343,372 339.5,373.4 L324.6,373.7 Z" fill="#fff" stroke="#1a1a1a" stroke-width="0.9"/>
<path d="M325,377 L347,377.2" stroke="#3a4a3a" stroke-width="1.1"/>
<ellipse cx="346.5" cy="410.3" rx="10" ry="6.5" fill="#000" filter="url(#spkm)"/>
<ellipse cx="346.3" cy="410.3" rx="6.8" ry="3.6" fill="#fff" stroke="#222" stroke-width="1.1"/>
<ellipse cx="347.5" cy="410.5" rx="2.3" ry="1.2" fill="none" stroke="#999" stroke-width="0.5"/>
<path d="M298.2,365.8 L320.2,365.8 Q322.7,366.5 322.2,370 L321.7,377 Q318.2,384 318.2,393 Q318.2,400 320.7,404 L320.7,411.5 L298.2,412 Z" fill="#fcfcfc" stroke="#333" stroke-width="1.1"/>
<path d="M300.9,380 Q302.79,387 302.79,393 Q302.79,399 300.9,405" fill="none" stroke="#6e6e6e" stroke-width="0.55"/>
<path d="M303.9,380 Q305.16,387 305.16,393 Q305.16,399 303.9,405" fill="none" stroke="#9a9a9a" stroke-width="0.55"/>
<path d="M306.9,380 Q307.53,387 307.53,393 Q307.53,399 306.9,405" fill="none" stroke="#6e6e6e" stroke-width="0.55"/>
<path d="M309.9,380 Q309.9,387 309.9,393 Q309.9,399 309.9,405" fill="none" stroke="#9a9a9a" stroke-width="0.55"/>
<path d="M312.9,380 Q312.27,387 312.27,393 Q312.27,399 312.9,405" fill="none" stroke="#6e6e6e" stroke-width="0.55"/>
<path d="M315.9,380 Q314.64,387 314.64,393 Q314.64,399 315.9,405" fill="none" stroke="#9a9a9a" stroke-width="0.55"/>
<path d="M318.9,380 Q317.01,387 317.01,393 Q317.01,399 318.9,405" fill="none" stroke="#6e6e6e" stroke-width="0.55"/>
<path d="M300.4,369 Q309.9,367.4 319.6,369 Q321.4,373 319,379 Q313.9,387.5 309.9,388 Q305.9,387.5 301,379 Q298.8,373 300.4,369 Z" fill="#cfcfcf" stroke="#222" stroke-width="1.0"/>
<path d="M302.8,370.6 Q309.9,369.6 317.2,370.6 Q318.4,374 316.4,378.5 Q312.4,384 309.9,384.5 Q307.4,384 303.6,378.5 Q301.6,374 302.8,370.6 Z" fill="#dedede" stroke="#555" stroke-width="0.7"/>
<path d="M305.2,372 Q309.9,371.3 314.7,372 Q314.2,375.5 309.9,379.5 Q306.2,375.5 305.2,372 Z" fill="#ececec" stroke="#6a6a6a" stroke-width="0.6"/>
<ellipse cx="309.4" cy="374.3" rx="1.8" ry="1.4" fill="#e4e4e4"/>
<ellipse cx="309.4" cy="407.2" rx="9.2" ry="6.4" fill="none" stroke="#9a9a9a" stroke-width="0.6"/>
<ellipse cx="309.4" cy="407.2" rx="6.9" ry="4.9" fill="#9a9a9a" stroke="#050505" stroke-width="2.5"/>
<ellipse cx="309.4" cy="407.0" rx="3.6" ry="2.3" fill="#d0d0d0" stroke="#555" stroke-width="0.5"/>
<path d="M297.6,365.6 L323.5,365.6" stroke="#111" stroke-width="1.2"/>
<linearGradient id="bandg" x1="0" x2="1" y1="0" y2="0"><stop offset="0" stop-color="#111"/><stop offset="0.22" stop-color="#444"/><stop offset="0.42" stop-color="#aaa"/><stop offset="0.62" stop-color="#bdbdbd"/><stop offset="0.82" stop-color="#505050"/><stop offset="1" stop-color="#111"/></linearGradient>
<filter id="bl1" x="-20%" y="-20%" width="140%" height="140%"><feGaussianBlur stdDeviation="0.9"/></filter>
<filter id="bl2" x="-20%" y="-20%" width="140%" height="140%"><feGaussianBlur stdDeviation="0.5"/></filter>
<path d="M161.2,484 Q159.7,460 164.2,441.5 Q190.4,436.5 215.9,441.5 Q220.4,460 218.9,484 Z" fill="#000" filter="url(#spkxxl)" opacity="0.45"/>
<path d="M162.2,484 Q161.2,462 165.2,447 Q190.4,443 214.9,447 Q218.9,462 217.9,484 Z" fill="#000" filter="url(#spkxxl)" opacity="0.3"/>
<path d="M161.2,483 Q160.7,453.0 167.2,450.0 Q177.2,449.0 180.2,456.0 L181.2,470.0 Q190.4,473.0 202.9,468.0 Q209.9,458.0 215.9,460.0 Q218.9,466.0 218.9,483" fill="none" stroke="#4a4a4a" stroke-width="0.65"/>
<path d="M163.5,483 Q163,455.3 169.5,452.3 Q177.2,451.3 180.2,458.3 L181.2,469.31 Q190.4,472.31 202.9,467.31 Q209.9,460.3 213.6,462.3 Q216.6,468.3 216.6,483" fill="none" stroke="#5a5a5a" stroke-width="0.6"/>
<path d="M165.8,483 Q165.3,457.6 171.8,454.6 Q177.2,453.6 180.2,460.6 L181.2,468.62 Q190.4,471.62 202.9,466.62 Q209.9,462.6 211.3,464.6 Q214.3,470.6 214.3,483" fill="none" stroke="#6a6a6a" stroke-width="0.55"/>
<path d="M168.1,483 Q167.6,459.9 174.1,456.9 Q177.2,455.9 180.2,462.9 L181.2,467.93 Q190.4,470.93 202.9,465.93 Q209.9,464.9 209.0,466.9 Q212.0,472.9 212.0,483" fill="none" stroke="#7a7a7a" stroke-width="0.55"/>
<path d="M165.2,455 L174.2,471 M174.2,455 L165.2,471" stroke="#8a8a8a" stroke-width="0.6"/>
<path d="M183.5,458 Q186,452.5 192,453 Q197,451 200.5,455 Q202,460 199,463 Q201,467 197,469 Q193,466.5 191,469 Q187,468 185,463 Q183,461 183.5,458 Z" fill="#fff" stroke="#7a7a7a" stroke-width="0.7"/>
<path d="M161.2,481.5 Q161.2,473.5 169.2,473.5 L205.9,474.5 Q213.9,474 218.4,479 Q220.4,485 216.9,488 Q212.9,489.5 206.9,487.2 Q190.4,484.8 171.2,487.8 Q160.7,488.2 161.2,481.5 Z" fill="url(#bandg)" filter="url(#bl2)"/>
<path d="M161.2,481.5 Q161.2,473.5 169.2,473.5 L205.9,474.5 Q213.9,474 218.4,479 Q220.4,485 216.9,488 Q212.9,489.5 206.9,487.2 Q190.4,484.8 171.2,487.8 Q160.7,488.2 161.2,481.5 Z" fill="none" stroke="#1a1a1a" stroke-width="0.9" filter="url(#bl2)"/>
<path d="M165.2,476.8 Q190.4,476 208.9,477.2" fill="none" stroke="#333" stroke-width="0.9"/>
<path d="M169.2,480.2 L206.9,480.2" stroke="#e0e0e0" stroke-width="0.9"/>
<path d="M171.2,483.4 Q190.4,482.3 206.9,483.4" fill="none" stroke="#444" stroke-width="0.8"/>
<ellipse cx="170.5" cy="481.8" rx="7" ry="3.8" fill="#050505" filter="url(#bl2)"/>
<ellipse cx="169.5" cy="481.8" rx="2.45" ry="0.95" fill="#9a9a9a"/>
<ellipse cx="212" cy="483" rx="4.6" ry="3.6" fill="#050505" filter="url(#bl2)"/>
<ellipse cx="212" cy="483" rx="1.38" ry="0.9" fill="#9a9a9a"/>
<path d="M231.4,484 Q229.9,460 234.4,441.5 Q260.6,436.5 286.1,441.5 Q290.6,460 289.1,484 Z" fill="#000" filter="url(#spkxxl)" opacity="0.45"/>
<path d="M232.4,484 Q231.4,462 235.4,447 Q260.6,443 285.1,447 Q289.1,462 288.1,484 Z" fill="#000" filter="url(#spkxxl)" opacity="0.3"/>
<path d="M231.4,483 Q230.9,453.0 237.4,450.0 Q247.4,449.0 250.4,456.0 L251.4,470.0 Q260.6,473.0 273.1,468.0 Q280.1,456.0 286.1,458.0 Q289.1,464.0 289.1,483" fill="none" stroke="#4a4a4a" stroke-width="0.65"/>
<path d="M233.7,483 Q233.2,455.3 239.7,452.3 Q247.4,451.3 250.4,458.3 L251.4,469.31 Q260.6,472.31 273.1,467.31 Q280.1,458.3 283.8,460.3 Q286.8,466.3 286.8,483" fill="none" stroke="#5a5a5a" stroke-width="0.6"/>
<path d="M236.0,483 Q235.5,457.6 242.0,454.6 Q247.4,453.6 250.4,460.6 L251.4,468.62 Q260.6,471.62 273.1,466.62 Q280.1,460.6 281.5,462.6 Q284.5,468.6 284.5,483" fill="none" stroke="#6a6a6a" stroke-width="0.55"/>
<path d="M238.3,483 Q237.8,459.9 244.3,456.9 Q247.4,455.9 250.4,462.9 L251.4,467.93 Q260.6,470.93 273.1,465.93 Q280.1,462.9 279.2,464.9 Q282.2,470.9 282.2,483" fill="none" stroke="#7a7a7a" stroke-width="0.55"/>
<path d="M235.4,455 L244.4,471 M244.4,455 L235.4,471" stroke="#8a8a8a" stroke-width="0.6"/>
<path d="M252.5,454 Q257,452 262,456 Q267,455 270,459 Q271,464 268,467 Q264,469 260,466 Q256,463 255,459 Q252,457 252.5,454 Z" fill="#fff" stroke="#7a7a7a" stroke-width="0.7"/>
<path d="M231.4,481.5 Q231.4,473.5 239.4,473.5 L276.1,474.5 Q284.1,464 288.6,469 Q290.6,485 287.1,488 Q283.1,489.5 277.1,487.2 Q260.6,484.8 241.4,487.8 Q230.9,488.2 231.4,481.5 Z" fill="url(#bandg)" filter="url(#bl2)"/>
<path d="M231.4,481.5 Q231.4,473.5 239.4,473.5 L276.1,474.5 Q284.1,464 288.6,469 Q290.6,485 287.1,488 Q283.1,489.5 277.1,487.2 Q260.6,484.8 241.4,487.8 Q230.9,488.2 231.4,481.5 Z" fill="none" stroke="#1a1a1a" stroke-width="0.9" filter="url(#bl2)"/>
<path d="M235.4,476.8 Q260.6,476 279.1,477.2" fill="none" stroke="#333" stroke-width="0.9"/>
<path d="M239.4,480.2 L277.1,480.2" stroke="#e0e0e0" stroke-width="0.9"/>
<path d="M241.4,483.4 Q260.6,482.3 277.1,483.4" fill="none" stroke="#444" stroke-width="0.8"/>
<ellipse cx="240.5" cy="481.8" rx="7.5" ry="3.8" fill="#050505" filter="url(#bl2)"/>
<ellipse cx="239.5" cy="481.8" rx="2.62" ry="0.95" fill="#9a9a9a"/>
<ellipse cx="281.5" cy="481.5" rx="5" ry="5" fill="#050505" filter="url(#bl2)"/>
<ellipse cx="281.5" cy="481.5" rx="1.5" ry="1.25" fill="#9a9a9a"/>
<path d="M301.4,484 Q299.9,460 304.4,441.5 Q330.6,436.5 356.1,441.5 Q360.6,460 359.1,484 Z" fill="#000" filter="url(#spkxxl)" opacity="0.45"/>
<path d="M302.4,484 Q301.4,462 305.4,447 Q330.6,443 355.1,447 Q359.1,462 358.1,484 Z" fill="#000" filter="url(#spkxxl)" opacity="0.3"/>
<path d="M301.4,483 Q300.9,453.0 307.4,450.0 Q317.4,449.0 320.4,456.0 L321.4,470.0 Q330.6,473.0 343.1,468.0 Q350.1,456.0 356.1,458.0 Q359.1,464.0 359.1,483" fill="none" stroke="#4a4a4a" stroke-width="0.65"/>
<path d="M303.7,483 Q303.2,455.3 309.7,452.3 Q317.4,451.3 320.4,458.3 L321.4,469.31 Q330.6,472.31 343.1,467.31 Q350.1,458.3 353.8,460.3 Q356.8,466.3 356.8,483" fill="none" stroke="#5a5a5a" stroke-width="0.6"/>
<path d="M306,483 Q305.5,457.6 312,454.6 Q317.4,453.6 320.4,460.6 L321.4,468.62 Q330.6,471.62 343.1,466.62 Q350.1,460.6 351.5,462.6 Q354.5,468.6 354.5,483" fill="none" stroke="#6a6a6a" stroke-width="0.55"/>
<path d="M308.3,483 Q307.8,459.9 314.3,456.9 Q317.4,455.9 320.4,462.9 L321.4,467.93 Q330.6,470.93 343.1,465.93 Q350.1,462.9 349.2,464.9 Q352.2,470.9 352.2,483" fill="none" stroke="#7a7a7a" stroke-width="0.55"/>
<path d="M305.4,455 L314.4,471 M314.4,455 L305.4,471" stroke="#8a8a8a" stroke-width="0.6"/>
<path d="M302.9,477 Q301.9,459 306.4,452 Q315.4,449 321.4,455 L322.4,477 Z" fill="#b8b8b8" stroke="#555" stroke-width="0.6" opacity="0.85"/>
<path d="M308.4,457 L315.4,472 M315.4,457 L308.4,472" stroke="#eeeeee" stroke-width="0.9"/>
<path d="M323,462 Q322,452 329,451 Q333,456 330,460 Q336,457 341,461 Q343,466 339,468 Q334,466 331,469 Q327,469 326,466 Q323,466 323,462 Z" fill="#fff" stroke="#7a7a7a" stroke-width="0.7"/>
<path d="M301.4,481.5 Q301.4,473.5 309.4,473.5 L346.1,474.5 Q354.1,464 358.6,469 Q360.6,485 357.1,488 Q353.1,489.5 347.1,487.2 Q330.6,484.8 311.4,487.8 Q300.9,488.2 301.4,481.5 Z" fill="url(#bandg)" filter="url(#bl2)"/>
<path d="M301.4,481.5 Q301.4,473.5 309.4,473.5 L346.1,474.5 Q354.1,464 358.6,469 Q360.6,485 357.1,488 Q353.1,489.5 347.1,487.2 Q330.6,484.8 311.4,487.8 Q300.9,488.2 301.4,481.5 Z" fill="none" stroke="#1a1a1a" stroke-width="0.9" filter="url(#bl2)"/>
<path d="M305.4,476.8 Q330.6,476 349.1,477.2" fill="none" stroke="#333" stroke-width="0.9"/>
<path d="M309.4,480.2 L347.1,480.2" stroke="#e0e0e0" stroke-width="0.9"/>
<path d="M311.4,483.4 Q330.6,482.3 347.1,483.4" fill="none" stroke="#444" stroke-width="0.8"/>
<ellipse cx="310" cy="480.8" rx="7" ry="4.3" fill="#050505" filter="url(#bl2)"/>
<ellipse cx="309" cy="480.8" rx="2.45" ry="1.07" fill="#9a9a9a"/>
<ellipse cx="350.5" cy="480" rx="5" ry="5.5" fill="#050505" filter="url(#bl2)"/>
<ellipse cx="350.5" cy="480" rx="1.5" ry="1.38" fill="#9a9a9a"/>
</g>
<text x="194.7" y="351.0" font-size="8.6" text-anchor="middle" font-weight="normal" font-style="normal" fill="#1a1a1a" style="stroke-width:0.1px">SPF</text>
<text x="264.7" y="351.0" font-size="8.6" text-anchor="middle" font-weight="normal" font-style="normal" fill="#1a1a1a" style="stroke-width:0.1px">GF</text>
<text x="332.4" y="351.0" font-size="8.6" text-anchor="middle" font-weight="normal" font-style="normal" fill="#1a1a1a" style="stroke-width:0.1px">GF+NOD1L</text>
<rect x="157.4" y="352.6" width="210.6" height="140.6" fill="none" stroke="#1a1a1a" stroke-width="1.1"/>
<line x1="227.6" y1="352.6" x2="227.6" y2="493.2" stroke="#1a1a1a" stroke-width="1.1"/>
<line x1="297.6" y1="352.6" x2="297.6" y2="493.2" stroke="#1a1a1a" stroke-width="1.1"/>
<line x1="157.4" y1="423.3" x2="368.0" y2="423.3" stroke="#1a1a1a" stroke-width="1.1"/>
<text x="204" y="362.6" font-size="8.6" text-anchor="middle" font-weight="normal" font-style="normal" fill="#1a1a1a" style="stroke-width:0.1px">3.0</text>
<text x="273.7" y="362.6" font-size="8.6" text-anchor="middle" font-weight="normal" font-style="normal" fill="#1a1a1a" style="stroke-width:0.1px">1.2</text>
<text x="344" y="362.6" font-size="8.6" text-anchor="middle" font-weight="normal" font-style="normal" fill="#1a1a1a" style="stroke-width:0.1px">2.1</text>
<text x="195" y="436.2" font-size="8.6" text-anchor="middle" font-weight="normal" font-style="normal" fill="#1a1a1a" style="stroke-width:0.1px">6.4</text>
<text x="264" y="436.2" font-size="8.6" text-anchor="middle" font-weight="normal" font-style="normal" fill="#1a1a1a" style="stroke-width:0.1px">3.8</text>
<text x="335.3" y="436.2" font-size="8.6" text-anchor="middle" font-weight="normal" font-style="normal" fill="#1a1a1a" style="stroke-width:0.1px">5.8</text>
<text x="377.3" y="392.5" font-size="8.6" text-anchor="start" font-weight="normal" font-style="normal" fill="#1a1a1a" style="stroke-width:0.1px">LSK</text>
<text x="377.7" y="463.8" font-size="8.6" text-anchor="start" font-weight="normal" font-style="normal" fill="#1a1a1a" style="stroke-width:0.1px">CLP</text>
<text x="0" y="0" font-size="8.2" text-anchor="middle" fill="#1a1a1a" style="stroke-width:0.1px" transform="translate(154.3,425.3) rotate(-90)">c-kit</text>
<text x="259.3" y="503.3" font-size="8.2" text-anchor="middle" font-weight="normal" font-style="normal" fill="#1a1a1a" style="stroke-width:0.1px">Sca-1</text>
<rect x="182.5" y="366" width="33.3" height="15.9" fill="none" stroke="#b5323f" stroke-width="1.1"/>
<rect x="252.9" y="365.1" width="33.7" height="15.6" fill="none" stroke="#b5323f" stroke-width="1.1"/>
<rect x="324.3" y="365.6" width="33.2" height="15.4" fill="none" stroke="#b5323f" stroke-width="1.1"/>
<rect x="180.5" y="446.2" width="23.0" height="25.3" fill="none" stroke="#b5323f" stroke-width="1.1"/>
<rect x="251.3" y="446.2" width="22.2" height="24.7" fill="none" stroke="#b5323f" stroke-width="1.1"/>
<rect x="321.2" y="446.2" width="22.1" height="24.5" fill="none" stroke="#b5323f" stroke-width="1.1"/>
<line x1="58.2" y1="560.5" x2="58.2" y2="660.45" stroke="#000" stroke-width="1.5"/>
<line x1="55.2" y1="563.4" x2="58.2" y2="563.4" stroke="#000" stroke-width="1.5"/>
<text x="51.1" y="565.75" font-size="9" text-anchor="end" font-weight="normal" font-style="normal" fill="#1a1a1a" >1.5</text>
<line x1="55.2" y1="595.5" x2="58.2" y2="595.5" stroke="#000" stroke-width="1.5"/>
<text x="51.1" y="597.85" font-size="9" text-anchor="end" font-weight="normal" font-style="normal" fill="#1a1a1a" >1.0</text>
<line x1="55.2" y1="627.5" x2="58.2" y2="627.5" stroke="#000" stroke-width="1.5"/>
<text x="51.1" y="629.85" font-size="9" text-anchor="end" font-weight="normal" font-style="normal" fill="#1a1a1a" >0.5</text>
<line x1="55.2" y1="659.7" x2="58.2" y2="659.7" stroke="#000" stroke-width="1.5"/>
<text x="51.1" y="662.05" font-size="9" text-anchor="end" font-weight="normal" font-style="normal" fill="#1a1a1a" >0</text>
<line x1="55.2" y1="659.7" x2="122" y2="659.7" stroke="#000" stroke-width="1.5"/>
<line x1="68.6" y1="659.7" x2="68.6" y2="662.7" stroke="#000" stroke-width="1.5"/>
<line x1="90.2" y1="659.7" x2="90.2" y2="662.7" stroke="#000" stroke-width="1.5"/>
<line x1="111.3" y1="659.7" x2="111.3" y2="662.7" stroke="#000" stroke-width="1.5"/>
<text x="90.2" y="555.4" font-size="8.6" text-anchor="middle" font-weight="bold" font-style="normal" fill="#111" >LT-HSC</text>
<line x1="90.5" y1="580.7" x2="116.4" y2="580.7" stroke="#000" stroke-width="1.35"/>
<text x="104.1" y="577.9" font-size="7.5" text-anchor="middle" font-weight="bold" letter-spacing="1.3" fill="#111">*</text>
<circle cx="65.8" cy="611" r="2.85" fill="#3a4867" stroke="#10151f" stroke-width="1.05"/>
<circle cx="71.8" cy="613" r="2.85" fill="#3a4867" stroke="#10151f" stroke-width="1.05"/>
<circle cx="69.1" cy="614.7" r="2.85" fill="#3a4867" stroke="#10151f" stroke-width="1.05"/>
<circle cx="65.1" cy="616.6" r="2.85" fill="#3a4867" stroke="#10151f" stroke-width="1.05"/>
<circle cx="65.8" cy="629.8" r="2.85" fill="#3a4867" stroke="#10151f" stroke-width="1.05"/>
<circle cx="65.5" cy="632.5" r="2.85" fill="#3a4867" stroke="#10151f" stroke-width="1.05"/>
<circle cx="71.8" cy="633.8" r="2.85" fill="#3a4867" stroke="#10151f" stroke-width="1.05"/>
<circle cx="68.5" cy="634.5" r="2.85" fill="#3a4867" stroke="#10151f" stroke-width="1.05"/>
<circle cx="67.1" cy="637.9" r="2.85" fill="#3a4867" stroke="#10151f" stroke-width="1.05"/>
<circle cx="69.1" cy="641.2" r="2.85" fill="#3a4867" stroke="#10151f" stroke-width="1.05"/>
<circle cx="87.3" cy="631.8" r="2.85" fill="#8e1737" stroke="#2c050f" stroke-width="1.05"/>
<circle cx="93.4" cy="631.8" r="2.85" fill="#8e1737" stroke="#2c050f" stroke-width="1.05"/>
<circle cx="85.3" cy="635.9" r="2.85" fill="#8e1737" stroke="#2c050f" stroke-width="1.05"/>
<circle cx="95.4" cy="635.9" r="2.85" fill="#8e1737" stroke="#2c050f" stroke-width="1.05"/>
<circle cx="90.3" cy="635.2" r="2.85" fill="#8e1737" stroke="#2c050f" stroke-width="1.05"/>
<circle cx="88" cy="641.2" r="2.85" fill="#8e1737" stroke="#2c050f" stroke-width="1.05"/>
<circle cx="91.6" cy="639.9" r="2.85" fill="#8e1737" stroke="#2c050f" stroke-width="1.05"/>
<rect x="112.5" y="586.9" width="5.6" height="5.6" fill="#e9a53a" stroke="#2e1a05" stroke-width="1.1"/>
<rect x="105.4" y="594.0" width="5.6" height="5.6" fill="#e9a53a" stroke="#2e1a05" stroke-width="1.1"/>
<rect x="105.4" y="601.2" width="5.6" height="5.6" fill="#e9a53a" stroke="#2e1a05" stroke-width="1.1"/>
<rect x="112.5" y="604.8" width="5.6" height="5.6" fill="#e9a53a" stroke="#2e1a05" stroke-width="1.1"/>
<rect x="105.4" y="616.9" width="5.6" height="5.6" fill="#e9a53a" stroke="#2e1a05" stroke-width="1.1"/>
<rect x="112.5" y="615.6" width="5.6" height="5.6" fill="#e9a53a" stroke="#2e1a05" stroke-width="1.1"/>
<rect x="108.7" y="617.6" width="5.6" height="5.6" fill="#e9a53a" stroke="#2e1a05" stroke-width="1.1"/>
<rect x="105.4" y="630.4" width="5.6" height="5.6" fill="#e9a53a" stroke="#2e1a05" stroke-width="1.1"/>
<rect x="111.4" y="630.4" width="5.6" height="5.6" fill="#e9a53a" stroke="#2e1a05" stroke-width="1.1"/>
<rect x="111.4" y="627.0" width="5.6" height="5.6" fill="#e9a53a" stroke="#2e1a05" stroke-width="1.1"/>
<rect x="108.7" y="638.4" width="5.6" height="5.6" fill="#e9a53a" stroke="#2e1a05" stroke-width="1.1"/>
<line x1="61.6" y1="625.5" x2="75.6" y2="625.5" stroke="#000" stroke-width="1.6"/>
<line x1="68.6" y1="622.8" x2="68.6" y2="628.3" stroke="#000" stroke-width="1.4"/>
<line x1="65.1" y1="622.8" x2="72.1" y2="622.8" stroke="#000" stroke-width="1.4"/>
<line x1="65.1" y1="628.3" x2="72.1" y2="628.3" stroke="#000" stroke-width="1.4"/>
<line x1="83.2" y1="635" x2="97.2" y2="635" stroke="#000" stroke-width="1.6"/>
<line x1="90.2" y1="633.5" x2="90.2" y2="636.5" stroke="#000" stroke-width="1.4"/>
<line x1="86.7" y1="633.5" x2="93.7" y2="633.5" stroke="#000" stroke-width="1.4"/>
<line x1="86.7" y1="636.5" x2="93.7" y2="636.5" stroke="#000" stroke-width="1.4"/>
<line x1="104.3" y1="618" x2="118.3" y2="618" stroke="#000" stroke-width="1.6"/>
<line x1="111.3" y1="614.4" x2="111.3" y2="621.6" stroke="#000" stroke-width="1.4"/>
<line x1="107.8" y1="614.4" x2="114.8" y2="614.4" stroke="#000" stroke-width="1.4"/>
<line x1="107.8" y1="621.6" x2="114.8" y2="621.6" stroke="#000" stroke-width="1.4"/>
<text x="0" y="0" font-size="9" text-anchor="end" fill="#1a1a1a" transform="translate(74.2,670.6) rotate(-45)">SPF</text>
<text x="0" y="0" font-size="9" text-anchor="end" fill="#1a1a1a" transform="translate(95.8,670.6) rotate(-45)">PBS</text>
<text x="0" y="0" font-size="9" text-anchor="end" fill="#1a1a1a" transform="translate(116.9,670.6) rotate(-45)">NOD1L</text>
<line x1="76.2" y1="693.5" x2="118.5" y2="693.5" stroke="#000" stroke-width="1.35"/>
<text x="97.15" y="705.2" font-size="9" text-anchor="middle" font-weight="normal" font-style="normal" fill="#1a1a1a" >GF mice</text>
<line x1="151.8" y1="560.5" x2="151.8" y2="660.45" stroke="#000" stroke-width="1.5"/>
<line x1="148.8" y1="563.5" x2="151.8" y2="563.5" stroke="#000" stroke-width="1.5"/>
<text x="144.7" y="565.85" font-size="9" text-anchor="end" font-weight="normal" font-style="normal" fill="#1a1a1a" >8</text>
<line x1="148.8" y1="587.7" x2="151.8" y2="587.7" stroke="#000" stroke-width="1.5"/>
<text x="144.7" y="590.05" font-size="9" text-anchor="end" font-weight="normal" font-style="normal" fill="#1a1a1a" >6</text>
<line x1="148.8" y1="612.1" x2="151.8" y2="612.1" stroke="#000" stroke-width="1.5"/>
<text x="144.7" y="614.45" font-size="9" text-anchor="end" font-weight="normal" font-style="normal" fill="#1a1a1a" >4</text>
<line x1="148.8" y1="635.8" x2="151.8" y2="635.8" stroke="#000" stroke-width="1.5"/>
<text x="144.7" y="638.15" font-size="9" text-anchor="end" font-weight="normal" font-style="normal" fill="#1a1a1a" >2</text>
<line x1="148.8" y1="659.7" x2="151.8" y2="659.7" stroke="#000" stroke-width="1.5"/>
<text x="144.7" y="662.05" font-size="9" text-anchor="end" font-weight="normal" font-style="normal" fill="#1a1a1a" >0</text>
<line x1="148.8" y1="659.7" x2="215.5" y2="659.7" stroke="#000" stroke-width="1.5"/>
<line x1="162.2" y1="659.7" x2="162.2" y2="662.7" stroke="#000" stroke-width="1.5"/>
<line x1="183.5" y1="659.7" x2="183.5" y2="662.7" stroke="#000" stroke-width="1.5"/>
<line x1="205.1" y1="659.7" x2="205.1" y2="662.7" stroke="#000" stroke-width="1.5"/>
<text x="183.5" y="555.4" font-size="8.6" text-anchor="middle" font-weight="bold" font-style="normal" fill="#111" >ST-HSC</text>
<line x1="159" y1="578.3" x2="185.5" y2="578.3" stroke="#000" stroke-width="1.35"/>
<text x="172.9" y="575.5" font-size="7.5" text-anchor="middle" font-weight="bold" letter-spacing="1.3" fill="#111">**</text>
<line x1="181.3" y1="586.4" x2="207.2" y2="586.4" stroke="#000" stroke-width="1.35"/>
<text x="194.9" y="583.6" font-size="7.5" text-anchor="middle" font-weight="bold" letter-spacing="1.3" fill="#111">**</text>
<circle cx="162.5" cy="596" r="2.85" fill="#3a4867" stroke="#10151f" stroke-width="1.05"/>
<circle cx="162.5" cy="606.5" r="2.85" fill="#3a4867" stroke="#10151f" stroke-width="1.05"/>
<circle cx="158.8" cy="611.9" r="2.85" fill="#3a4867" stroke="#10151f" stroke-width="1.05"/>
<circle cx="166.2" cy="616" r="2.85" fill="#3a4867" stroke="#10151f" stroke-width="1.05"/>
<circle cx="158.8" cy="621.3" r="2.85" fill="#3a4867" stroke="#10151f" stroke-width="1.05"/>
<circle cx="158.1" cy="623.4" r="2.85" fill="#3a4867" stroke="#10151f" stroke-width="1.05"/>
<circle cx="166.8" cy="624" r="2.85" fill="#3a4867" stroke="#10151f" stroke-width="1.05"/>
<circle cx="160.1" cy="628" r="2.85" fill="#3a4867" stroke="#10151f" stroke-width="1.05"/>
<circle cx="164.2" cy="629.4" r="2.85" fill="#3a4867" stroke="#10151f" stroke-width="1.05"/>
<circle cx="162.1" cy="631.4" r="2.85" fill="#3a4867" stroke="#10151f" stroke-width="1.05"/>
<circle cx="181" cy="630.8" r="2.85" fill="#8e1737" stroke="#2c050f" stroke-width="1.05"/>
<circle cx="187" cy="630.8" r="2.85" fill="#8e1737" stroke="#2c050f" stroke-width="1.05"/>
<circle cx="188.4" cy="636.8" r="2.85" fill="#8e1737" stroke="#2c050f" stroke-width="1.05"/>
<circle cx="179.6" cy="642.9" r="2.85" fill="#8e1737" stroke="#2c050f" stroke-width="1.05"/>
<circle cx="185" cy="643.5" r="2.85" fill="#8e1737" stroke="#2c050f" stroke-width="1.05"/>
<circle cx="182.3" cy="646.2" r="2.85" fill="#8e1737" stroke="#2c050f" stroke-width="1.05"/>
<rect x="202.4" y="591.9" width="5.6" height="5.6" fill="#e9a53a" stroke="#2e1a05" stroke-width="1.1"/>
<rect x="199.7" y="599.7" width="5.6" height="5.6" fill="#e9a53a" stroke="#2e1a05" stroke-width="1.1"/>
<rect x="205.1" y="603.1" width="5.6" height="5.6" fill="#e9a53a" stroke="#2e1a05" stroke-width="1.1"/>
<rect x="202.4" y="607.1" width="5.6" height="5.6" fill="#e9a53a" stroke="#2e1a05" stroke-width="1.1"/>
<rect x="199.0" y="612.5" width="5.6" height="5.6" fill="#e9a53a" stroke="#2e1a05" stroke-width="1.1"/>
<rect x="205.8" y="617.5" width="5.6" height="5.6" fill="#e9a53a" stroke="#2e1a05" stroke-width="1.1"/>
<rect x="198.4" y="615.8" width="5.6" height="5.6" fill="#e9a53a" stroke="#2e1a05" stroke-width="1.1"/>
<rect x="199.0" y="624.6" width="5.6" height="5.6" fill="#e9a53a" stroke="#2e1a05" stroke-width="1.1"/>
<rect x="204.4" y="625.0" width="5.6" height="5.6" fill="#e9a53a" stroke="#2e1a05" stroke-width="1.1"/>
<rect x="201.7" y="628.0" width="5.6" height="5.6" fill="#e9a53a" stroke="#2e1a05" stroke-width="1.1"/>
<rect x="201.7" y="633.3" width="5.6" height="5.6" fill="#e9a53a" stroke="#2e1a05" stroke-width="1.1"/>
<rect x="198.4" y="620.6" width="5.6" height="5.6" fill="#e9a53a" stroke="#2e1a05" stroke-width="1.1"/>
<line x1="155.2" y1="619.3" x2="169.2" y2="619.3" stroke="#000" stroke-width="1.6"/>
<line x1="162.2" y1="616.5" x2="162.2" y2="622.1" stroke="#000" stroke-width="1.4"/>
<line x1="158.7" y1="616.5" x2="165.7" y2="616.5" stroke="#000" stroke-width="1.4"/>
<line x1="158.7" y1="622.1" x2="165.7" y2="622.1" stroke="#000" stroke-width="1.4"/>
<line x1="176.5" y1="637.5" x2="190.5" y2="637.5" stroke="#000" stroke-width="1.6"/>
<line x1="183.5" y1="634.5" x2="183.5" y2="640.5" stroke="#000" stroke-width="1.4"/>
<line x1="180.0" y1="634.5" x2="187.0" y2="634.5" stroke="#000" stroke-width="1.4"/>
<line x1="180.0" y1="640.5" x2="187.0" y2="640.5" stroke="#000" stroke-width="1.4"/>
<line x1="198.1" y1="620.3" x2="212.1" y2="620.3" stroke="#000" stroke-width="1.6"/>
<line x1="205.1" y1="616.8" x2="205.1" y2="623.8" stroke="#000" stroke-width="1.4"/>
<line x1="201.6" y1="616.8" x2="208.6" y2="616.8" stroke="#000" stroke-width="1.4"/>
<line x1="201.6" y1="623.8" x2="208.6" y2="623.8" stroke="#000" stroke-width="1.4"/>
<text x="0" y="0" font-size="9" text-anchor="end" fill="#1a1a1a" transform="translate(167.8,670.6) rotate(-45)">SPF</text>
<text x="0" y="0" font-size="9" text-anchor="end" fill="#1a1a1a" transform="translate(189.1,670.6) rotate(-45)">PBS</text>
<text x="0" y="0" font-size="9" text-anchor="end" fill="#1a1a1a" transform="translate(210.7,670.6) rotate(-45)">NOD1L</text>
<line x1="172.1" y1="695.6" x2="214.2" y2="695.6" stroke="#000" stroke-width="1.35"/>
<text x="192.95" y="706.7" font-size="9" text-anchor="middle" font-weight="normal" font-style="normal" fill="#1a1a1a" >GF mice</text>
<line x1="250.2" y1="560.5" x2="250.2" y2="660.45" stroke="#000" stroke-width="1.5"/>
<line x1="247.2" y1="564" x2="250.2" y2="564" stroke="#000" stroke-width="1.5"/>
<text x="243.1" y="566.35" font-size="9" text-anchor="end" font-weight="normal" font-style="normal" fill="#1a1a1a" >10</text>
<line x1="247.2" y1="583.2" x2="250.2" y2="583.2" stroke="#000" stroke-width="1.5"/>
<text x="243.1" y="585.55" font-size="9" text-anchor="end" font-weight="normal" font-style="normal" fill="#1a1a1a" >8</text>
<line x1="247.2" y1="602.5" x2="250.2" y2="602.5" stroke="#000" stroke-width="1.5"/>
<text x="243.1" y="604.85" font-size="9" text-anchor="end" font-weight="normal" font-style="normal" fill="#1a1a1a" >6</text>
<line x1="247.2" y1="621.7" x2="250.2" y2="621.7" stroke="#000" stroke-width="1.5"/>
<text x="243.1" y="624.05" font-size="9" text-anchor="end" font-weight="normal" font-style="normal" fill="#1a1a1a" >4</text>
<line x1="247.2" y1="640.7" x2="250.2" y2="640.7" stroke="#000" stroke-width="1.5"/>
<text x="243.1" y="643.05" font-size="9" text-anchor="end" font-weight="normal" font-style="normal" fill="#1a1a1a" >2</text>
<line x1="247.2" y1="659.7" x2="250.2" y2="659.7" stroke="#000" stroke-width="1.5"/>
<text x="243.1" y="662.05" font-size="9" text-anchor="end" font-weight="normal" font-style="normal" fill="#1a1a1a" >0</text>
<line x1="247.2" y1="659.7" x2="313.7" y2="659.7" stroke="#000" stroke-width="1.5"/>
<line x1="261" y1="659.7" x2="261" y2="662.7" stroke="#000" stroke-width="1.5"/>
<line x1="281.7" y1="659.7" x2="281.7" y2="662.7" stroke="#000" stroke-width="1.5"/>
<line x1="303" y1="659.7" x2="303" y2="662.7" stroke="#000" stroke-width="1.5"/>
<text x="281.7" y="555.4" font-size="8.6" text-anchor="middle" font-weight="bold" font-style="normal" fill="#111" >MPP</text>
<line x1="259.5" y1="568.9" x2="286.2" y2="568.9" stroke="#000" stroke-width="1.35"/>
<text x="273.5" y="566.1" font-size="7.5" text-anchor="middle" font-weight="bold" letter-spacing="1.3" fill="#111">*</text>
<line x1="281.9" y1="577.5" x2="308.1" y2="577.5" stroke="#000" stroke-width="1.35"/>
<text x="295.65" y="574.7" font-size="7.5" text-anchor="middle" font-weight="bold" letter-spacing="1.3" fill="#111">**</text>
<circle cx="261" cy="576.5" r="2.85" fill="#3a4867" stroke="#10151f" stroke-width="1.05"/>
<circle cx="261" cy="592.9" r="2.85" fill="#3a4867" stroke="#10151f" stroke-width="1.05"/>
<circle cx="261" cy="606.6" r="2.85" fill="#3a4867" stroke="#10151f" stroke-width="1.05"/>
<circle cx="257.5" cy="623.1" r="2.85" fill="#3a4867" stroke="#10151f" stroke-width="1.05"/>
<circle cx="263.1" cy="622.5" r="2.85" fill="#3a4867" stroke="#10151f" stroke-width="1.05"/>
<circle cx="260.6" cy="625.6" r="2.85" fill="#3a4867" stroke="#10151f" stroke-width="1.05"/>
<circle cx="265" cy="627.8" r="2.85" fill="#3a4867" stroke="#10151f" stroke-width="1.05"/>
<circle cx="256.3" cy="633.1" r="2.85" fill="#3a4867" stroke="#10151f" stroke-width="1.05"/>
<circle cx="262.5" cy="633.8" r="2.85" fill="#3a4867" stroke="#10151f" stroke-width="1.05"/>
<circle cx="258.8" cy="636.3" r="2.85" fill="#3a4867" stroke="#10151f" stroke-width="1.05"/>
<circle cx="278.1" cy="627.5" r="2.85" fill="#8e1737" stroke="#2c050f" stroke-width="1.05"/>
<circle cx="285.6" cy="630" r="2.85" fill="#8e1737" stroke="#2c050f" stroke-width="1.05"/>
<circle cx="278.1" cy="633.8" r="2.85" fill="#8e1737" stroke="#2c050f" stroke-width="1.05"/>
<circle cx="286.3" cy="634.4" r="2.85" fill="#8e1737" stroke="#2c050f" stroke-width="1.05"/>
<circle cx="281.9" cy="635.6" r="2.85" fill="#8e1737" stroke="#2c050f" stroke-width="1.05"/>
<circle cx="280.6" cy="639.4" r="2.85" fill="#8e1737" stroke="#2c050f" stroke-width="1.05"/>
<circle cx="283.1" cy="641.3" r="2.85" fill="#8e1737" stroke="#2c050f" stroke-width="1.05"/>
<rect x="296.6" y="584.1" width="5.6" height="5.6" fill="#e9a53a" stroke="#2e1a05" stroke-width="1.1"/>
<rect x="303.5" y="592.0" width="5.6" height="5.6" fill="#e9a53a" stroke="#2e1a05" stroke-width="1.1"/>
<rect x="303.2" y="603.5" width="5.6" height="5.6" fill="#e9a53a" stroke="#2e1a05" stroke-width="1.1"/>
<rect x="295.3" y="607.8" width="5.6" height="5.6" fill="#e9a53a" stroke="#2e1a05" stroke-width="1.1"/>
<rect x="304.1" y="609.1" width="5.6" height="5.6" fill="#e9a53a" stroke="#2e1a05" stroke-width="1.1"/>
<rect x="296.6" y="612.2" width="5.6" height="5.6" fill="#e9a53a" stroke="#2e1a05" stroke-width="1.1"/>
<rect x="302.2" y="614.7" width="5.6" height="5.6" fill="#e9a53a" stroke="#2e1a05" stroke-width="1.1"/>
<rect x="300.3" y="618.2" width="5.6" height="5.6" fill="#e9a53a" stroke="#2e1a05" stroke-width="1.1"/>
<rect x="297.2" y="624.1" width="5.6" height="5.6" fill="#e9a53a" stroke="#2e1a05" stroke-width="1.1"/>
<rect x="302.8" y="625.3" width="5.6" height="5.6" fill="#e9a53a" stroke="#2e1a05" stroke-width="1.1"/>
<rect x="299.7" y="630.3" width="5.6" height="5.6" fill="#e9a53a" stroke="#2e1a05" stroke-width="1.1"/>
<line x1="254" y1="617.9" x2="268" y2="617.9" stroke="#000" stroke-width="1.6"/>
<line x1="261" y1="611.9" x2="261" y2="623.9" stroke="#000" stroke-width="1.4"/>
<line x1="257.5" y1="611.9" x2="264.5" y2="611.9" stroke="#000" stroke-width="1.4"/>
<line x1="257.5" y1="623.9" x2="264.5" y2="623.9" stroke="#000" stroke-width="1.4"/>
<line x1="274.7" y1="635.6" x2="288.7" y2="635.6" stroke="#000" stroke-width="1.6"/>
<line x1="281.7" y1="634" x2="281.7" y2="637.2" stroke="#000" stroke-width="1.4"/>
<line x1="278.2" y1="634" x2="285.2" y2="634" stroke="#000" stroke-width="1.4"/>
<line x1="278.2" y1="637.2" x2="285.2" y2="637.2" stroke="#000" stroke-width="1.4"/>
<line x1="296" y1="613.1" x2="310" y2="613.1" stroke="#000" stroke-width="1.6"/>
<line x1="303" y1="609.5" x2="303" y2="616.7" stroke="#000" stroke-width="1.4"/>
<line x1="299.5" y1="609.5" x2="306.5" y2="609.5" stroke="#000" stroke-width="1.4"/>
<line x1="299.5" y1="616.7" x2="306.5" y2="616.7" stroke="#000" stroke-width="1.4"/>
<text x="0" y="0" font-size="9" text-anchor="end" fill="#1a1a1a" transform="translate(266.6,670.6) rotate(-45)">SPF</text>
<text x="0" y="0" font-size="9" text-anchor="end" fill="#1a1a1a" transform="translate(287.3,670.6) rotate(-45)">PBS</text>
<text x="0" y="0" font-size="9" text-anchor="end" fill="#1a1a1a" transform="translate(308.6,670.6) rotate(-45)">NOD1L</text>
<line x1="270.3" y1="695.6" x2="312.4" y2="695.6" stroke="#000" stroke-width="1.35"/>
<text x="291.15" y="706.7" font-size="9" text-anchor="middle" font-weight="normal" font-style="normal" fill="#1a1a1a" >GF mice</text>
<line x1="350.6" y1="560.5" x2="350.6" y2="660.45" stroke="#000" stroke-width="1.5"/>
<line x1="347.6" y1="564.2" x2="350.6" y2="564.2" stroke="#000" stroke-width="1.5"/>
<text x="343.5" y="566.55" font-size="9" text-anchor="end" font-weight="normal" font-style="normal" fill="#1a1a1a" >1.5</text>
<line x1="347.6" y1="596.3" x2="350.6" y2="596.3" stroke="#000" stroke-width="1.5"/>
<text x="343.5" y="598.65" font-size="9" text-anchor="end" font-weight="normal" font-style="normal" fill="#1a1a1a" >1.0</text>
<line x1="347.6" y1="628.1" x2="350.6" y2="628.1" stroke="#000" stroke-width="1.5"/>
<text x="343.5" y="630.45" font-size="9" text-anchor="end" font-weight="normal" font-style="normal" fill="#1a1a1a" >0.5</text>
<line x1="347.6" y1="659.7" x2="350.6" y2="659.7" stroke="#000" stroke-width="1.5"/>
<text x="343.5" y="662.05" font-size="9" text-anchor="end" font-weight="normal" font-style="normal" fill="#1a1a1a" >0.0</text>
<line x1="347.6" y1="659.7" x2="413.9" y2="659.7" stroke="#000" stroke-width="1.5"/>
<line x1="361.2" y1="659.7" x2="361.2" y2="662.7" stroke="#000" stroke-width="1.5"/>
<line x1="381.9" y1="659.7" x2="381.9" y2="662.7" stroke="#000" stroke-width="1.5"/>
<line x1="403" y1="659.7" x2="403" y2="662.7" stroke="#000" stroke-width="1.5"/>
<text x="381.9" y="555.4" font-size="8.6" text-anchor="middle" font-weight="bold" font-style="normal" fill="#111" >CLP</text>
<line x1="379.4" y1="575" x2="405.6" y2="575" stroke="#000" stroke-width="1.35"/>
<text x="393.15" y="572.2" font-size="7.5" text-anchor="middle" font-weight="bold" letter-spacing="1.3" fill="#111">***</text>
<line x1="357.3" y1="609" x2="383.8" y2="609" stroke="#000" stroke-width="1.35"/>
<text x="371.2" y="606.2" font-size="7.5" text-anchor="middle" font-weight="bold" letter-spacing="1.3" fill="#111">**</text>
<circle cx="361.3" cy="618.1" r="2.85" fill="#3a4867" stroke="#10151f" stroke-width="1.05"/>
<circle cx="364.8" cy="621.3" r="2.85" fill="#3a4867" stroke="#10151f" stroke-width="1.05"/>
<circle cx="358.1" cy="623.8" r="2.85" fill="#3a4867" stroke="#10151f" stroke-width="1.05"/>
<circle cx="366.3" cy="628.8" r="2.85" fill="#3a4867" stroke="#10151f" stroke-width="1.05"/>
<circle cx="356.3" cy="631.3" r="2.85" fill="#3a4867" stroke="#10151f" stroke-width="1.05"/>
<circle cx="361.3" cy="629.4" r="2.85" fill="#3a4867" stroke="#10151f" stroke-width="1.05"/>
<circle cx="359.4" cy="636.9" r="2.85" fill="#3a4867" stroke="#10151f" stroke-width="1.05"/>
<circle cx="363.1" cy="636.3" r="2.85" fill="#3a4867" stroke="#10151f" stroke-width="1.05"/>
<circle cx="358.1" cy="627.5" r="2.85" fill="#3a4867" stroke="#10151f" stroke-width="1.05"/>
<circle cx="382.8" cy="636.3" r="2.85" fill="#8e1737" stroke="#2c050f" stroke-width="1.05"/>
<circle cx="386.9" cy="639.4" r="2.85" fill="#8e1737" stroke="#2c050f" stroke-width="1.05"/>
<circle cx="378.1" cy="641.9" r="2.85" fill="#8e1737" stroke="#2c050f" stroke-width="1.05"/>
<circle cx="383.5" cy="643.8" r="2.85" fill="#8e1737" stroke="#2c050f" stroke-width="1.05"/>
<circle cx="380.6" cy="646.9" r="2.85" fill="#8e1737" stroke="#2c050f" stroke-width="1.05"/>
<circle cx="386.3" cy="644.4" r="2.85" fill="#8e1737" stroke="#2c050f" stroke-width="1.05"/>
<rect x="400.3" y="581.6" width="5.6" height="5.6" fill="#e9a53a" stroke="#2e1a05" stroke-width="1.1"/>
<rect x="396.6" y="599.7" width="5.6" height="5.6" fill="#e9a53a" stroke="#2e1a05" stroke-width="1.1"/>
<rect x="403.5" y="604.1" width="5.6" height="5.6" fill="#e9a53a" stroke="#2e1a05" stroke-width="1.1"/>
<rect x="392.8" y="617.2" width="5.6" height="5.6" fill="#e9a53a" stroke="#2e1a05" stroke-width="1.1"/>
<rect x="397.8" y="616.6" width="5.6" height="5.6" fill="#e9a53a" stroke="#2e1a05" stroke-width="1.1"/>
<rect x="404.1" y="616.6" width="5.6" height="5.6" fill="#e9a53a" stroke="#2e1a05" stroke-width="1.1"/>
<rect x="397.8" y="626.6" width="5.6" height="5.6" fill="#e9a53a" stroke="#2e1a05" stroke-width="1.1"/>
<rect x="403.5" y="626.0" width="5.6" height="5.6" fill="#e9a53a" stroke="#2e1a05" stroke-width="1.1"/>
<rect x="402.8" y="629.7" width="5.6" height="5.6" fill="#e9a53a" stroke="#2e1a05" stroke-width="1.1"/>
<rect x="397.8" y="631.0" width="5.6" height="5.6" fill="#e9a53a" stroke="#2e1a05" stroke-width="1.1"/>
<rect x="400.3" y="635.3" width="5.6" height="5.6" fill="#e9a53a" stroke="#2e1a05" stroke-width="1.1"/>
<line x1="354.2" y1="628.8" x2="368.2" y2="628.8" stroke="#000" stroke-width="1.6"/>
<line x1="361.2" y1="626.5" x2="361.2" y2="631" stroke="#000" stroke-width="1.4"/>
<line x1="357.7" y1="626.5" x2="364.7" y2="626.5" stroke="#000" stroke-width="1.4"/>
<line x1="357.7" y1="631" x2="364.7" y2="631" stroke="#000" stroke-width="1.4"/>
<line x1="374.9" y1="642.5" x2="388.9" y2="642.5" stroke="#000" stroke-width="1.6"/>
<line x1="381.9" y1="641" x2="381.9" y2="644" stroke="#000" stroke-width="1.4"/>
<line x1="378.4" y1="641" x2="385.4" y2="641" stroke="#000" stroke-width="1.4"/>
<line x1="378.4" y1="644" x2="385.4" y2="644" stroke="#000" stroke-width="1.4"/>
<line x1="396" y1="620" x2="410" y2="620" stroke="#000" stroke-width="1.6"/>
<line x1="403" y1="615.5" x2="403" y2="624.5" stroke="#000" stroke-width="1.4"/>
<line x1="399.5" y1="615.5" x2="406.5" y2="615.5" stroke="#000" stroke-width="1.4"/>
<line x1="399.5" y1="624.5" x2="406.5" y2="624.5" stroke="#000" stroke-width="1.4"/>
<text x="0" y="0" font-size="9" text-anchor="end" fill="#1a1a1a" transform="translate(366.8,670.6) rotate(-45)">SPF</text>
<text x="0" y="0" font-size="9" text-anchor="end" fill="#1a1a1a" transform="translate(387.5,670.6) rotate(-45)">PBS</text>
<text x="0" y="0" font-size="9" text-anchor="end" fill="#1a1a1a" transform="translate(408.6,670.6) rotate(-45)">NOD1L</text>
<line x1="370.5" y1="695.6" x2="412.6" y2="695.6" stroke="#000" stroke-width="1.35"/>
<text x="391.35" y="706.7" font-size="9" text-anchor="middle" font-weight="normal" font-style="normal" fill="#1a1a1a" >GF mice</text>
<line x1="448.7" y1="560.5" x2="448.7" y2="660.45" stroke="#000" stroke-width="1.5"/>
<line x1="445.7" y1="564.2" x2="448.7" y2="564.2" stroke="#000" stroke-width="1.5"/>
<text x="441.6" y="566.55" font-size="9" text-anchor="end" font-weight="normal" font-style="normal" fill="#1a1a1a" >80</text>
<line x1="445.7" y1="588.2" x2="448.7" y2="588.2" stroke="#000" stroke-width="1.5"/>
<text x="441.6" y="590.55" font-size="9" text-anchor="end" font-weight="normal" font-style="normal" fill="#1a1a1a" >60</text>
<line x1="445.7" y1="612.1" x2="448.7" y2="612.1" stroke="#000" stroke-width="1.5"/>
<text x="441.6" y="614.45" font-size="9" text-anchor="end" font-weight="normal" font-style="normal" fill="#1a1a1a" >40</text>
<line x1="445.7" y1="636.1" x2="448.7" y2="636.1" stroke="#000" stroke-width="1.5"/>
<text x="441.6" y="638.45" font-size="9" text-anchor="end" font-weight="normal" font-style="normal" fill="#1a1a1a" >20</text>
<line x1="445.7" y1="659.7" x2="448.7" y2="659.7" stroke="#000" stroke-width="1.5"/>
<text x="441.6" y="662.05" font-size="9" text-anchor="end" font-weight="normal" font-style="normal" fill="#1a1a1a" >0</text>
<line x1="445.7" y1="659.7" x2="512.2" y2="659.7" stroke="#000" stroke-width="1.5"/>
<line x1="459.1" y1="659.7" x2="459.1" y2="662.7" stroke="#000" stroke-width="1.5"/>
<line x1="480.2" y1="659.7" x2="480.2" y2="662.7" stroke="#000" stroke-width="1.5"/>
<line x1="501.3" y1="659.7" x2="501.3" y2="662.7" stroke="#000" stroke-width="1.5"/>
<text x="480.2" y="555.4" font-size="8.6" text-anchor="middle" font-weight="bold" font-style="normal" fill="#111" >CMP</text>
<line x1="458" y1="583.5" x2="484.3" y2="583.5" stroke="#000" stroke-width="1.35"/>
<text x="471.8" y="580.7" font-size="7.5" text-anchor="middle" font-weight="bold" letter-spacing="1.3" fill="#111">**</text>
<line x1="480.3" y1="572.3" x2="506.5" y2="572.3" stroke="#000" stroke-width="1.35"/>
<text x="494.05" y="569.5" font-size="7.5" text-anchor="middle" font-weight="bold" letter-spacing="1.3" fill="#111">***</text>
<circle cx="459" cy="595.6" r="2.85" fill="#3a4867" stroke="#10151f" stroke-width="1.05"/>
<circle cx="461.8" cy="604.4" r="2.85" fill="#3a4867" stroke="#10151f" stroke-width="1.05"/>
<circle cx="456.1" cy="608.1" r="2.85" fill="#3a4867" stroke="#10151f" stroke-width="1.05"/>
<circle cx="460.5" cy="611.9" r="2.85" fill="#3a4867" stroke="#10151f" stroke-width="1.05"/>
<circle cx="456.1" cy="618.1" r="2.85" fill="#3a4867" stroke="#10151f" stroke-width="1.05"/>
<circle cx="462.4" cy="620" r="2.85" fill="#3a4867" stroke="#10151f" stroke-width="1.05"/>
<circle cx="458" cy="622.5" r="2.85" fill="#3a4867" stroke="#10151f" stroke-width="1.05"/>
<circle cx="459.3" cy="625.6" r="2.85" fill="#3a4867" stroke="#10151f" stroke-width="1.05"/>
<circle cx="477.4" cy="626.3" r="2.85" fill="#8e1737" stroke="#2c050f" stroke-width="1.05"/>
<circle cx="483.6" cy="626.9" r="2.85" fill="#8e1737" stroke="#2c050f" stroke-width="1.05"/>
<circle cx="476.5" cy="630.5" r="2.85" fill="#8e1737" stroke="#2c050f" stroke-width="1.05"/>
<circle cx="484.5" cy="630.8" r="2.85" fill="#8e1737" stroke="#2c050f" stroke-width="1.05"/>
<circle cx="479.9" cy="631.9" r="2.85" fill="#8e1737" stroke="#2c050f" stroke-width="1.05"/>
<circle cx="480.3" cy="635.6" r="2.85" fill="#8e1737" stroke="#2c050f" stroke-width="1.05"/>
<rect x="494.6" y="585.3" width="5.6" height="5.6" fill="#e9a53a" stroke="#2e1a05" stroke-width="1.1"/>
<rect x="502.1" y="581.6" width="5.6" height="5.6" fill="#e9a53a" stroke="#2e1a05" stroke-width="1.1"/>
<rect x="498.3" y="595.7" width="5.6" height="5.6" fill="#e9a53a" stroke="#2e1a05" stroke-width="1.1"/>
<rect x="502.1" y="601.6" width="5.6" height="5.6" fill="#e9a53a" stroke="#2e1a05" stroke-width="1.1"/>
<rect x="494.6" y="606.0" width="5.6" height="5.6" fill="#e9a53a" stroke="#2e1a05" stroke-width="1.1"/>
<rect x="501.5" y="611.6" width="5.6" height="5.6" fill="#e9a53a" stroke="#2e1a05" stroke-width="1.1"/>
<rect x="495.2" y="614.7" width="5.6" height="5.6" fill="#e9a53a" stroke="#2e1a05" stroke-width="1.1"/>
<rect x="499.0" y="616.0" width="5.6" height="5.6" fill="#e9a53a" stroke="#2e1a05" stroke-width="1.1"/>
<rect x="495.2" y="619.7" width="5.6" height="5.6" fill="#e9a53a" stroke="#2e1a05" stroke-width="1.1"/>
<rect x="500.8" y="620.3" width="5.6" height="5.6" fill="#e9a53a" stroke="#2e1a05" stroke-width="1.1"/>
<rect x="498.3" y="624.7" width="5.6" height="5.6" fill="#e9a53a" stroke="#2e1a05" stroke-width="1.1"/>
<line x1="452.1" y1="614.4" x2="466.1" y2="614.4" stroke="#000" stroke-width="1.6"/>
<line x1="459.1" y1="611" x2="459.1" y2="617.8" stroke="#000" stroke-width="1.4"/>
<line x1="455.6" y1="611" x2="462.6" y2="611" stroke="#000" stroke-width="1.4"/>
<line x1="455.6" y1="617.8" x2="462.6" y2="617.8" stroke="#000" stroke-width="1.4"/>
<line x1="473.2" y1="629.4" x2="487.2" y2="629.4" stroke="#000" stroke-width="1.6"/>
<line x1="480.2" y1="628" x2="480.2" y2="630.8" stroke="#000" stroke-width="1.4"/>
<line x1="476.7" y1="628" x2="483.7" y2="628" stroke="#000" stroke-width="1.4"/>
<line x1="476.7" y1="630.8" x2="483.7" y2="630.8" stroke="#000" stroke-width="1.4"/>
<line x1="494.3" y1="611.9" x2="508.3" y2="611.9" stroke="#000" stroke-width="1.6"/>
<line x1="501.3" y1="608" x2="501.3" y2="615.8" stroke="#000" stroke-width="1.4"/>
<line x1="497.8" y1="608" x2="504.8" y2="608" stroke="#000" stroke-width="1.4"/>
<line x1="497.8" y1="615.8" x2="504.8" y2="615.8" stroke="#000" stroke-width="1.4"/>
<text x="0" y="0" font-size="9" text-anchor="end" fill="#1a1a1a" transform="translate(464.7,670.6) rotate(-45)">SPF</text>
<text x="0" y="0" font-size="9" text-anchor="end" fill="#1a1a1a" transform="translate(485.8,670.6) rotate(-45)">PBS</text>
<text x="0" y="0" font-size="9" text-anchor="end" fill="#1a1a1a" transform="translate(506.9,670.6) rotate(-45)">NOD1L</text>
<line x1="468.8" y1="695.6" x2="510.9" y2="695.6" stroke="#000" stroke-width="1.35"/>
<text x="489.65" y="706.7" font-size="9" text-anchor="middle" font-weight="normal" font-style="normal" fill="#1a1a1a" >GF mice</text>
<rect x="0" y="0" width="1.1" height="717" fill="#000"/><rect x="0" y="0" width="520" height="1.1" fill="#000"/><rect x="518" y="0" width="2" height="717" fill="#000"/><rect x="0" y="715" width="520" height="2" fill="#000"/>
</svg></body></html>
